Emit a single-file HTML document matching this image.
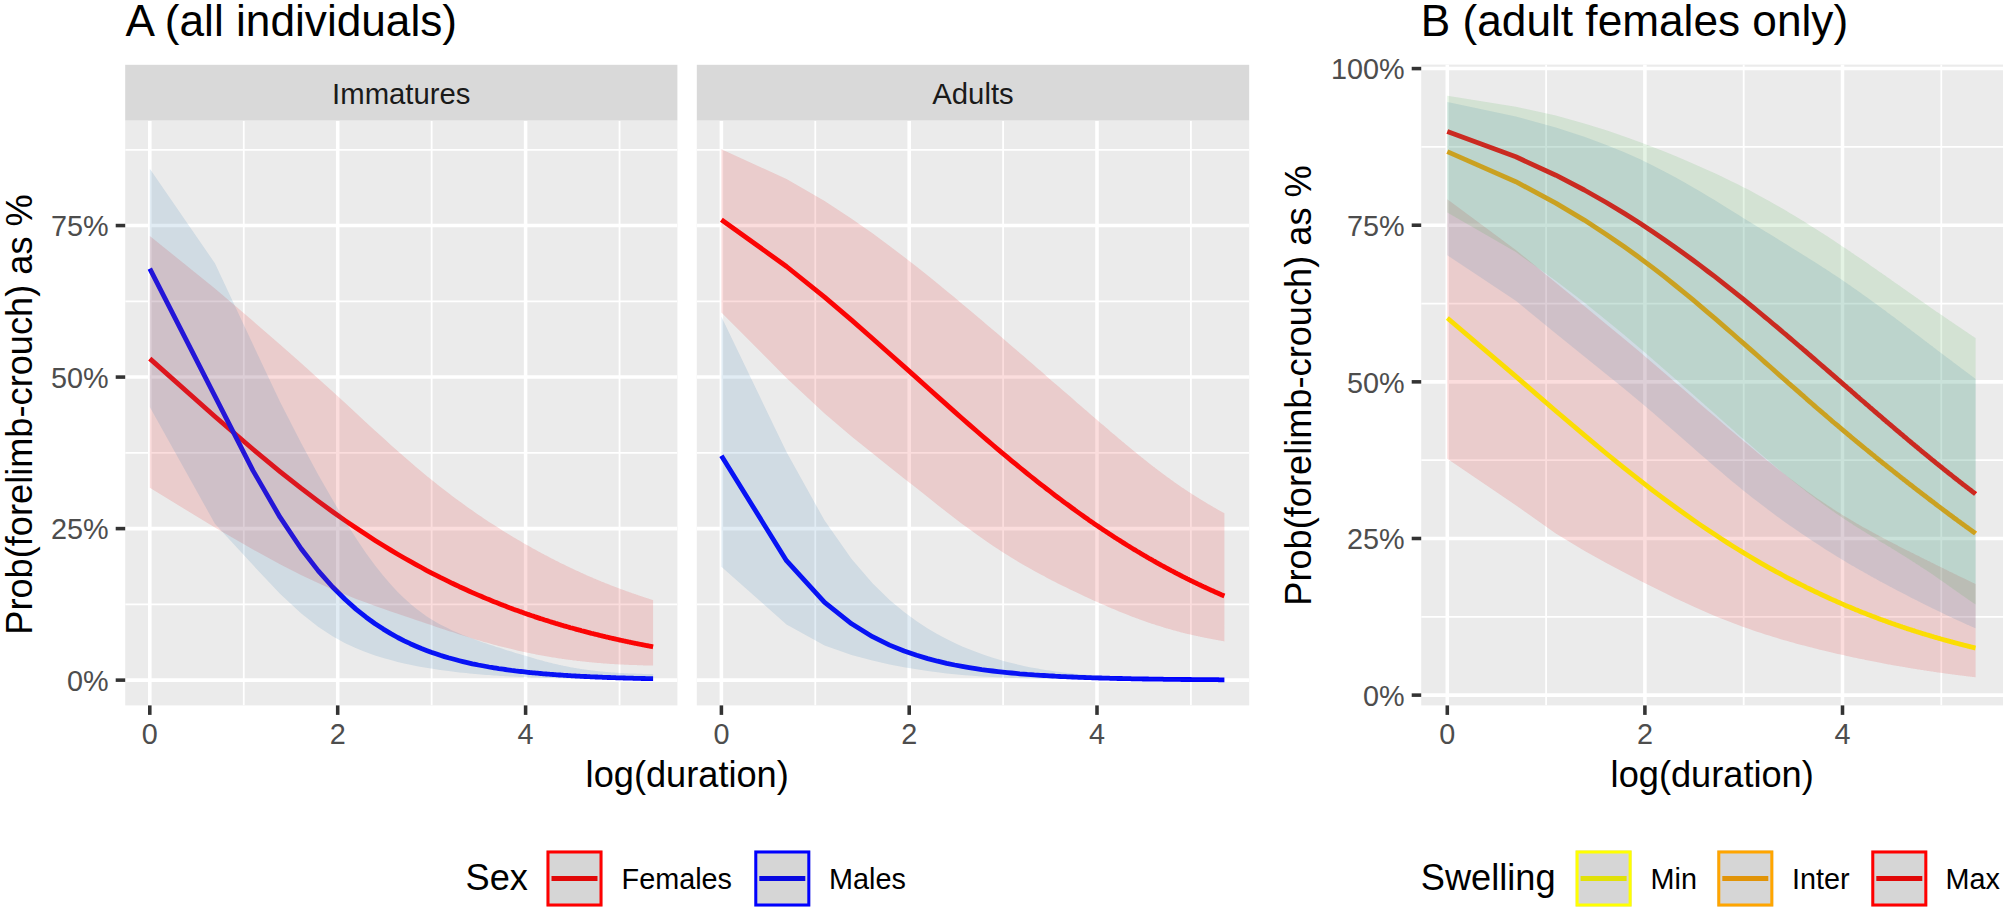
<!DOCTYPE html>
<html><head><meta charset="utf-8"><title>Figure</title><style>html,body{margin:0;padding:0;background:#fff}svg{display:block}</style></head><body>
<svg width="2007" height="913" viewBox="0 0 2007 913" font-family="'Liberation Sans', Arial, sans-serif">
<rect width="2007" height="913" fill="#fff"/>
<rect x="125.2" y="64.8" width="552.20" height="55.90" fill="#d9d9d9"/>
<text x="401.3" y="103.9" font-size="29.3" fill="#1a1a1a" text-anchor="middle">Immatures</text>
<rect x="696.8" y="64.8" width="552.40" height="55.90" fill="#d9d9d9"/>
<text x="973.0" y="103.9" font-size="29.3" fill="#1a1a1a" text-anchor="middle">Adults</text>
<clipPath id="cA1"><rect x="125.2" y="120.7" width="552.20" height="584.70"/></clipPath>
<rect x="125.2" y="120.7" width="552.20" height="584.70" fill="#ebebeb"/>
<g clip-path="url(#cA1)" stroke="#fff" fill="none">
<line x1="125.2" x2="677.4" y1="604.37" y2="604.37" stroke-width="1.78"/>
<line x1="125.2" x2="677.4" y1="452.84" y2="452.84" stroke-width="1.78"/>
<line x1="125.2" x2="677.4" y1="301.32" y2="301.32" stroke-width="1.78"/>
<line x1="125.2" x2="677.4" y1="149.79" y2="149.79" stroke-width="1.78"/>
<line x1="243.75" x2="243.75" y1="120.7" y2="705.4" stroke-width="1.78"/>
<line x1="431.65" x2="431.65" y1="120.7" y2="705.4" stroke-width="1.78"/>
<line x1="619.55" x2="619.55" y1="120.7" y2="705.4" stroke-width="1.78"/>
<line x1="125.2" x2="677.4" y1="680.13" y2="680.13" stroke-width="3.56"/>
<line x1="125.2" x2="677.4" y1="528.61" y2="528.61" stroke-width="3.56"/>
<line x1="125.2" x2="677.4" y1="377.08" y2="377.08" stroke-width="3.56"/>
<line x1="125.2" x2="677.4" y1="225.56" y2="225.56" stroke-width="3.56"/>
<line x1="149.80" x2="149.80" y1="120.7" y2="705.4" stroke-width="3.56"/>
<line x1="337.70" x2="337.70" y1="120.7" y2="705.4" stroke-width="3.56"/>
<line x1="525.60" x2="525.60" y1="120.7" y2="705.4" stroke-width="3.56"/>
</g>
<clipPath id="cA2"><rect x="696.8" y="120.7" width="552.40" height="584.70"/></clipPath>
<rect x="696.8" y="120.7" width="552.40" height="584.70" fill="#ebebeb"/>
<g clip-path="url(#cA2)" stroke="#fff" fill="none">
<line x1="696.8" x2="1249.2" y1="604.37" y2="604.37" stroke-width="1.78"/>
<line x1="696.8" x2="1249.2" y1="452.84" y2="452.84" stroke-width="1.78"/>
<line x1="696.8" x2="1249.2" y1="301.32" y2="301.32" stroke-width="1.78"/>
<line x1="696.8" x2="1249.2" y1="149.79" y2="149.79" stroke-width="1.78"/>
<line x1="815.30" x2="815.30" y1="120.7" y2="705.4" stroke-width="1.78"/>
<line x1="1003.10" x2="1003.10" y1="120.7" y2="705.4" stroke-width="1.78"/>
<line x1="1190.90" x2="1190.90" y1="120.7" y2="705.4" stroke-width="1.78"/>
<line x1="696.8" x2="1249.2" y1="680.13" y2="680.13" stroke-width="3.56"/>
<line x1="696.8" x2="1249.2" y1="528.61" y2="528.61" stroke-width="3.56"/>
<line x1="696.8" x2="1249.2" y1="377.08" y2="377.08" stroke-width="3.56"/>
<line x1="696.8" x2="1249.2" y1="225.56" y2="225.56" stroke-width="3.56"/>
<line x1="721.40" x2="721.40" y1="120.7" y2="705.4" stroke-width="3.56"/>
<line x1="909.20" x2="909.20" y1="120.7" y2="705.4" stroke-width="3.56"/>
<line x1="1097.00" x2="1097.00" y1="120.7" y2="705.4" stroke-width="3.56"/>
</g>
<clipPath id="cB"><rect x="1421.2" y="64.6" width="581.80" height="640.80"/></clipPath>
<rect x="1421.2" y="64.6" width="581.80" height="640.80" fill="#ebebeb"/>
<g clip-path="url(#cB)" stroke="#fff" fill="none">
<line x1="1421.2" x2="2003.0" y1="616.81" y2="616.81" stroke-width="1.78"/>
<line x1="1421.2" x2="2003.0" y1="460.17" y2="460.17" stroke-width="1.78"/>
<line x1="1421.2" x2="2003.0" y1="303.54" y2="303.54" stroke-width="1.78"/>
<line x1="1421.2" x2="2003.0" y1="146.90" y2="146.90" stroke-width="1.78"/>
<line x1="1546.10" x2="1546.10" y1="64.6" y2="705.4" stroke-width="1.78"/>
<line x1="1743.70" x2="1743.70" y1="64.6" y2="705.4" stroke-width="1.78"/>
<line x1="1941.30" x2="1941.30" y1="64.6" y2="705.4" stroke-width="1.78"/>
<line x1="1421.2" x2="2003.0" y1="695.13" y2="695.13" stroke-width="3.56"/>
<line x1="1421.2" x2="2003.0" y1="538.49" y2="538.49" stroke-width="3.56"/>
<line x1="1421.2" x2="2003.0" y1="381.85" y2="381.85" stroke-width="3.56"/>
<line x1="1421.2" x2="2003.0" y1="225.22" y2="225.22" stroke-width="3.56"/>
<line x1="1421.2" x2="2003.0" y1="68.58" y2="68.58" stroke-width="3.56"/>
<line x1="1447.30" x2="1447.30" y1="64.6" y2="705.4" stroke-width="3.56"/>
<line x1="1644.90" x2="1644.90" y1="64.6" y2="705.4" stroke-width="3.56"/>
<line x1="1842.50" x2="1842.50" y1="64.6" y2="705.4" stroke-width="3.56"/>
</g>
<polyline clip-path="url(#cA1)" points="149.8,358.6 214.9,416.5 253.0,449.3 280.0,471.6 301.0,488.2 318.1,501.1 332.6,511.7 345.2,520.6 356.2,528.1 366.1,534.6 375.1,540.4 383.3,545.5 390.8,550.1 397.7,554.2 404.2,558.0 410.3,561.4 416.0,564.6 421.4,567.5 426.4,570.3 431.2,572.8 435.8,575.1 440.2,577.4 444.4,579.4 448.4,581.4 452.2,583.3 455.9,585.0 459.4,586.7 462.9,588.3 466.2,589.8 469.3,591.2 472.4,592.6 475.4,593.9 478.3,595.1 481.1,596.3 483.8,597.5 486.5,598.6 489.0,599.6 491.6,600.7 494.0,601.7 496.4,602.6 498.7,603.5 501.0,604.4 503.2,605.3 505.3,606.1 507.4,606.9 509.5,607.7 511.5,608.4 513.5,609.2 515.4,609.9 517.3,610.6 519.2,611.3 521.0,611.9 522.8,612.5 524.6,613.2 526.3,613.8 528.0,614.4 529.6,614.9 531.3,615.5 532.9,616.0 534.5,616.6 536.0,617.1 537.5,617.6 539.0,618.1 540.5,618.6 542.0,619.0 543.4,619.5 544.8,620.0 546.2,620.4 547.6,620.8 548.9,621.3 550.3,621.7 551.6,622.1 552.9,622.5 554.2,622.9 555.4,623.3 556.7,623.6 557.9,624.0 559.1,624.4 560.3,624.7 561.5,625.1 562.7,625.4 563.8,625.8 565.0,626.1 566.1,626.4 567.2,626.7 568.3,627.0 569.4,627.4 570.4,627.7 571.5,628.0 572.6,628.2 573.6,628.5 574.6,628.8 575.6,629.1 576.6,629.4 577.6,629.7 578.6,629.9 579.6,630.2 580.6,630.4 581.5,630.7 582.5,631.0 583.4,631.2 584.3,631.4 585.2,631.7 586.1,631.9 587.0,632.2 587.9,632.4 588.8,632.6 589.7,632.8 590.6,633.1 591.4,633.3 592.3,633.5 593.1,633.7 593.9,633.9 594.8,634.1 595.6,634.3 596.4,634.5 597.2,634.7 598.0,634.9 598.8,635.1 599.6,635.3 600.4,635.5 601.1,635.7 601.9,635.9 602.7,636.1 603.4,636.3 604.2,636.4 604.9,636.6 605.6,636.8 606.4,637.0 607.1,637.1 607.8,637.3 608.5,637.5 609.2,637.6 610.0,637.8 610.7,638.0 611.3,638.1 612.0,638.3 612.7,638.4 613.4,638.6 614.1,638.7 614.7,638.9 615.4,639.0 616.1,639.2 616.7,639.3 617.4,639.5 618.0,639.6 618.7,639.8 619.3,639.9 619.9,640.1 620.5,640.2 621.2,640.3 621.8,640.5 622.4,640.6 623.0,640.7 623.6,640.9 624.2,641.0 624.8,641.1 625.4,641.3 626.0,641.4 626.6,641.5 627.2,641.6 627.8,641.8 628.4,641.9 628.9,642.0 629.5,642.1 630.1,642.2 630.6,642.4 631.2,642.5 631.8,642.6 632.3,642.7 632.9,642.8 633.4,642.9 634.0,643.0 634.5,643.2 635.0,643.3 635.6,643.4 636.1,643.5 636.6,643.6 637.2,643.7 637.7,643.8 638.2,643.9 638.7,644.0 639.2,644.1 639.7,644.2 640.3,644.3 640.8,644.4 641.3,644.5 641.8,644.6 642.3,644.7 642.8,644.8 643.3,644.9 643.7,645.0 644.2,645.1 644.7,645.2 645.2,645.3 645.7,645.4 646.2,645.5 646.6,645.6 647.1,645.7 647.6,645.7 648.0,645.8 648.5,645.9 649.0,646.0 649.4,646.1 649.9,646.2 650.4,646.3 650.8,646.4 651.3,646.4 651.7,646.5 652.2,646.6 652.6,646.7 653.1,646.8" fill="none" stroke="#ff0000" stroke-width="4.8" stroke-linejoin="round"/>
<polyline clip-path="url(#cA1)" points="149.8,268.7 214.9,396.2 253.0,470.6 280.0,517.2 301.0,548.5 318.1,570.6 332.6,587.0 345.2,599.5 356.2,609.4 366.1,617.2 375.1,623.7 383.3,629.1 390.8,633.6 397.7,637.5 404.2,640.8 410.3,643.7 416.0,646.2 421.4,648.5 426.4,650.4 431.2,652.2 435.8,653.8 440.2,655.3 444.4,656.6 448.4,657.8 452.2,658.8 455.9,659.8 459.4,660.7 462.9,661.6 466.2,662.4 469.3,663.1 472.4,663.8 475.4,664.4 478.3,665.0 481.1,665.5 483.8,666.0 486.5,666.5 489.0,667.0 491.6,667.4 494.0,667.8 496.4,668.2 498.7,668.6 501.0,668.9 503.2,669.2 505.3,669.5 507.4,669.8 509.5,670.1 511.5,670.4 513.5,670.6 515.4,670.9 517.3,671.1 519.2,671.3 521.0,671.5 522.8,671.7 524.6,671.9 526.3,672.1 528.0,672.3 529.6,672.5 531.3,672.6 532.9,672.8 534.5,672.9 536.0,673.1 537.5,673.2 539.0,673.4 540.5,673.5 542.0,673.6 543.4,673.8 544.8,673.9 546.2,674.0 547.6,674.1 548.9,674.2 550.3,674.3 551.6,674.4 552.9,674.5 554.2,674.6 555.4,674.7 556.7,674.8 557.9,674.9 559.1,675.0 560.3,675.0 561.5,675.1 562.7,675.2 563.8,675.3 565.0,675.4 566.1,675.4 567.2,675.5 568.3,675.6 569.4,675.6 570.4,675.7 571.5,675.8 572.6,675.8 573.6,675.9 574.6,675.9 575.6,676.0 576.6,676.1 577.6,676.1 578.6,676.2 579.6,676.2 580.6,676.3 581.5,676.3 582.5,676.4 583.4,676.4 584.3,676.5 585.2,676.5 586.1,676.5 587.0,676.6 587.9,676.6 588.8,676.7 589.7,676.7 590.6,676.8 591.4,676.8 592.3,676.8 593.1,676.9 593.9,676.9 594.8,676.9 595.6,677.0 596.4,677.0 597.2,677.0 598.0,677.1 598.8,677.1 599.6,677.1 600.4,677.2 601.1,677.2 601.9,677.2 602.7,677.3 603.4,677.3 604.2,677.3 604.9,677.4 605.6,677.4 606.4,677.4 607.1,677.4 607.8,677.5 608.5,677.5 609.2,677.5 610.0,677.5 610.7,677.6 611.3,677.6 612.0,677.6 612.7,677.6 613.4,677.7 614.1,677.7 614.7,677.7 615.4,677.7 616.1,677.8 616.7,677.8 617.4,677.8 618.0,677.8 618.7,677.8 619.3,677.9 619.9,677.9 620.5,677.9 621.2,677.9 621.8,677.9 622.4,677.9 623.0,678.0 623.6,678.0 624.2,678.0 624.8,678.0 625.4,678.0 626.0,678.1 626.6,678.1 627.2,678.1 627.8,678.1 628.4,678.1 628.9,678.1 629.5,678.2 630.1,678.2 630.6,678.2 631.2,678.2 631.8,678.2 632.3,678.2 632.9,678.2 633.4,678.3 634.0,678.3 634.5,678.3 635.0,678.3 635.6,678.3 636.1,678.3 636.6,678.3 637.2,678.4 637.7,678.4 638.2,678.4 638.7,678.4 639.2,678.4 639.7,678.4 640.3,678.4 640.8,678.4 641.3,678.5 641.8,678.5 642.3,678.5 642.8,678.5 643.3,678.5 643.7,678.5 644.2,678.5 644.7,678.5 645.2,678.5 645.7,678.6 646.2,678.6 646.6,678.6 647.1,678.6 647.6,678.6 648.0,678.6 648.5,678.6 649.0,678.6 649.4,678.6 649.9,678.6 650.4,678.7 650.8,678.7 651.3,678.7 651.7,678.7 652.2,678.7 652.6,678.7 653.1,678.7" fill="none" stroke="#0000ff" stroke-width="4.8" stroke-linejoin="round"/>
<polygon clip-path="url(#cA1)" points="149.8,236.0 214.9,288.4 253.0,321.1 280.0,344.6 301.0,363.1 318.1,378.4 332.6,391.6 345.2,403.1 356.2,413.3 366.1,422.4 375.1,430.7 383.3,438.1 390.8,444.9 397.7,451.1 404.2,456.8 410.3,462.1 416.0,467.0 421.4,471.5 426.4,475.7 431.2,479.6 435.8,483.3 440.2,486.8 444.4,490.0 448.4,493.1 452.2,496.0 455.9,498.7 459.4,501.3 462.9,503.8 466.2,506.2 469.3,508.5 472.4,510.6 475.4,512.7 478.3,514.7 481.1,516.6 483.8,518.4 486.5,520.2 489.0,521.9 491.6,523.5 494.0,525.1 496.4,526.6 498.7,528.1 501.0,529.5 503.2,530.9 505.3,532.2 507.4,533.5 509.5,534.8 511.5,536.0 513.5,537.2 515.4,538.3 517.3,539.5 519.2,540.6 521.0,541.6 522.8,542.7 524.6,543.7 526.3,544.7 528.0,545.6 529.6,546.6 531.3,547.5 532.9,548.4 534.5,549.3 536.0,550.1 537.5,551.0 539.0,551.8 540.5,552.6 542.0,553.4 543.4,554.1 544.8,554.9 546.2,555.6 547.6,556.3 548.9,557.1 550.3,557.8 551.6,558.4 552.9,559.1 554.2,559.8 555.4,560.4 556.7,561.0 557.9,561.6 559.1,562.3 560.3,562.9 561.5,563.4 562.7,564.0 563.8,564.6 565.0,565.1 566.1,565.7 567.2,566.2 568.3,566.7 569.4,567.3 570.4,567.8 571.5,568.3 572.6,568.8 573.6,569.3 574.6,569.7 575.6,570.2 576.6,570.7 577.6,571.1 578.6,571.6 579.6,572.0 580.6,572.5 581.5,572.9 582.5,573.3 583.4,573.8 584.3,574.2 585.2,574.6 586.1,575.0 587.0,575.4 587.9,575.8 588.8,576.2 589.7,576.5 590.6,576.9 591.4,577.3 592.3,577.6 593.1,578.0 593.9,578.4 594.8,578.7 595.6,579.1 596.4,579.4 597.2,579.7 598.0,580.1 598.8,580.4 599.6,580.7 600.4,581.0 601.1,581.4 601.9,581.7 602.7,582.0 603.4,582.3 604.2,582.6 604.9,582.9 605.6,583.2 606.4,583.5 607.1,583.8 607.8,584.1 608.5,584.3 609.2,584.6 610.0,584.9 610.7,585.2 611.3,585.4 612.0,585.7 612.7,586.0 613.4,586.2 614.1,586.5 614.7,586.8 615.4,587.0 616.1,587.3 616.7,587.5 617.4,587.8 618.0,588.0 618.7,588.2 619.3,588.5 619.9,588.7 620.5,588.9 621.2,589.2 621.8,589.4 622.4,589.6 623.0,589.9 623.6,590.1 624.2,590.3 624.8,590.5 625.4,590.7 626.0,590.9 626.6,591.2 627.2,591.4 627.8,591.6 628.4,591.8 628.9,592.0 629.5,592.2 630.1,592.4 630.6,592.6 631.2,592.8 631.8,593.0 632.3,593.2 632.9,593.4 633.4,593.6 634.0,593.7 634.5,593.9 635.0,594.1 635.6,594.3 636.1,594.5 636.6,594.7 637.2,594.8 637.7,595.0 638.2,595.2 638.7,595.4 639.2,595.6 639.7,595.7 640.3,595.9 640.8,596.1 641.3,596.2 641.8,596.4 642.3,596.6 642.8,596.7 643.3,596.9 643.7,597.1 644.2,597.2 644.7,597.4 645.2,597.5 645.7,597.7 646.2,597.9 646.6,598.0 647.1,598.2 647.6,598.3 648.0,598.5 648.5,598.6 649.0,598.8 649.4,598.9 649.9,599.1 650.4,599.2 650.8,599.4 651.3,599.5 651.7,599.7 652.2,599.8 652.6,599.9 653.1,600.1 653.1,665.6 652.6,665.6 652.2,665.6 651.7,665.6 651.3,665.6 650.8,665.6 650.4,665.6 649.9,665.5 649.4,665.5 649.0,665.5 648.5,665.5 648.0,665.5 647.6,665.5 647.1,665.5 646.6,665.5 646.2,665.4 645.7,665.4 645.2,665.4 644.7,665.4 644.2,665.4 643.7,665.4 643.3,665.4 642.8,665.3 642.3,665.3 641.8,665.3 641.3,665.3 640.8,665.3 640.3,665.3 639.7,665.2 639.2,665.2 638.7,665.2 638.2,665.2 637.7,665.2 637.2,665.2 636.6,665.1 636.1,665.1 635.6,665.1 635.0,665.1 634.5,665.1 634.0,665.0 633.4,665.0 632.9,665.0 632.3,665.0 631.8,665.0 631.2,664.9 630.6,664.9 630.1,664.9 629.5,664.9 628.9,664.9 628.4,664.8 627.8,664.8 627.2,664.8 626.6,664.8 626.0,664.7 625.4,664.7 624.8,664.7 624.2,664.7 623.6,664.6 623.0,664.6 622.4,664.6 621.8,664.5 621.2,664.5 620.5,664.5 619.9,664.4 619.3,664.4 618.7,664.4 618.0,664.3 617.4,664.3 616.7,664.3 616.1,664.2 615.4,664.2 614.7,664.2 614.1,664.1 613.4,664.1 612.7,664.0 612.0,664.0 611.3,663.9 610.7,663.9 610.0,663.9 609.2,663.8 608.5,663.8 607.8,663.7 607.1,663.7 606.4,663.6 605.6,663.5 604.9,663.5 604.2,663.4 603.4,663.4 602.7,663.3 601.9,663.3 601.1,663.2 600.4,663.1 599.6,663.1 598.8,663.0 598.0,662.9 597.2,662.9 596.4,662.8 595.6,662.7 594.8,662.7 593.9,662.6 593.1,662.5 592.3,662.4 591.4,662.3 590.6,662.3 589.7,662.2 588.8,662.1 587.9,662.0 587.0,661.9 586.1,661.8 585.2,661.7 584.3,661.6 583.4,661.5 582.5,661.4 581.5,661.3 580.6,661.2 579.6,661.1 578.6,661.0 577.6,660.9 576.6,660.7 575.6,660.6 574.6,660.5 573.6,660.4 572.6,660.2 571.5,660.1 570.4,660.0 569.4,659.8 568.3,659.7 567.2,659.5 566.1,659.4 565.0,659.2 563.8,659.1 562.7,658.9 561.5,658.7 560.3,658.6 559.1,658.4 557.9,658.2 556.7,658.0 555.4,657.8 554.2,657.6 552.9,657.4 551.6,657.2 550.3,657.0 548.9,656.7 547.6,656.5 546.2,656.3 544.8,656.0 543.4,655.8 542.0,655.5 540.5,655.3 539.0,655.0 537.5,654.7 536.0,654.4 534.5,654.1 532.9,653.8 531.3,653.5 529.6,653.1 528.0,652.8 526.3,652.4 524.6,652.1 522.8,651.7 521.0,651.3 519.2,650.9 517.3,650.5 515.4,650.0 513.5,649.6 511.5,649.1 509.5,648.6 507.4,648.1 505.3,647.6 503.2,647.1 501.0,646.5 498.7,645.9 496.4,645.3 494.0,644.7 491.6,644.0 489.0,643.3 486.5,642.6 483.8,641.9 481.1,641.1 478.3,640.3 475.4,639.4 472.4,638.5 469.3,637.6 466.2,636.6 462.9,635.6 459.4,634.5 455.9,633.3 452.2,632.1 448.4,630.9 444.4,629.6 440.2,628.2 435.8,626.7 431.2,625.1 426.4,623.5 421.4,621.8 416.0,620.0 410.3,618.1 404.2,616.0 397.7,613.8 390.8,611.4 383.3,608.8 375.1,605.9 366.1,602.6 356.2,598.9 345.2,594.6 332.6,589.5 318.1,583.1 301.0,575.0 280.0,564.3 253.0,549.5 214.9,527.6 149.8,487.8" fill="#e41a1c" fill-opacity="0.15"/>
<polygon clip-path="url(#cA1)" points="149.8,168.7 214.9,263.3 253.0,344.6 280.0,401.7 301.0,442.8 318.1,474.4 332.6,499.8 345.2,520.9 356.2,538.5 366.1,553.2 375.1,565.5 383.3,575.8 390.8,584.6 397.7,592.0 404.2,598.3 410.3,603.8 416.0,608.5 421.4,612.6 426.4,616.2 431.2,619.3 435.8,622.0 440.2,624.5 444.4,626.6 448.4,628.6 452.2,630.4 455.9,632.0 459.4,633.6 462.9,635.0 466.2,636.3 469.3,637.5 472.4,638.6 475.4,639.7 478.3,640.8 481.1,641.8 483.8,642.7 486.5,643.6 489.0,644.5 491.6,645.3 494.0,646.1 496.4,646.9 498.7,647.6 501.0,648.3 503.2,649.0 505.3,649.7 507.4,650.4 509.5,651.0 511.5,651.6 513.5,652.3 515.4,652.9 517.3,653.4 519.2,654.0 521.0,654.6 522.8,655.1 524.6,655.6 526.3,656.1 528.0,656.6 529.6,657.1 531.3,657.6 532.9,658.1 534.5,658.5 536.0,659.0 537.5,659.4 539.0,659.8 540.5,660.2 542.0,660.6 543.4,661.0 544.8,661.4 546.2,661.8 547.6,662.1 548.9,662.5 550.3,662.8 551.6,663.1 552.9,663.4 554.2,663.7 555.4,664.0 556.7,664.3 557.9,664.6 559.1,664.9 560.3,665.1 561.5,665.4 562.7,665.6 563.8,665.9 565.0,666.1 566.1,666.3 567.2,666.6 568.3,666.8 569.4,667.0 570.4,667.2 571.5,667.4 572.6,667.6 573.6,667.7 574.6,667.9 575.6,668.1 576.6,668.3 577.6,668.4 578.6,668.6 579.6,668.7 580.6,668.9 581.5,669.0 582.5,669.2 583.4,669.3 584.3,669.5 585.2,669.6 586.1,669.7 587.0,669.8 587.9,670.0 588.8,670.1 589.7,670.2 590.6,670.3 591.4,670.4 592.3,670.5 593.1,670.6 593.9,670.7 594.8,670.8 595.6,670.9 596.4,671.0 597.2,671.1 598.0,671.2 598.8,671.2 599.6,671.3 600.4,671.4 601.1,671.5 601.9,671.6 602.7,671.6 603.4,671.7 604.2,671.8 604.9,671.8 605.6,671.9 606.4,672.0 607.1,672.0 607.8,672.1 608.5,672.2 609.2,672.2 610.0,672.3 610.7,672.3 611.3,672.4 612.0,672.4 612.7,672.5 613.4,672.5 614.1,672.6 614.7,672.6 615.4,672.7 616.1,672.7 616.7,672.7 617.4,672.8 618.0,672.8 618.7,672.9 619.3,672.9 619.9,672.9 620.5,673.0 621.2,673.0 621.8,673.0 622.4,673.1 623.0,673.1 623.6,673.1 624.2,673.2 624.8,673.2 625.4,673.2 626.0,673.3 626.6,673.3 627.2,673.3 627.8,673.3 628.4,673.4 628.9,673.4 629.5,673.4 630.1,673.4 630.6,673.5 631.2,673.5 631.8,673.5 632.3,673.5 632.9,673.5 633.4,673.6 634.0,673.6 634.5,673.6 635.0,673.6 635.6,673.6 636.1,673.7 636.6,673.7 637.2,673.7 637.7,673.7 638.2,673.7 638.7,673.7 639.2,673.8 639.7,673.8 640.3,673.8 640.8,673.8 641.3,673.8 641.8,673.8 642.3,673.8 642.8,673.9 643.3,673.9 643.7,673.9 644.2,673.9 644.7,673.9 645.2,673.9 645.7,673.9 646.2,674.0 646.6,674.0 647.1,674.0 647.6,674.0 648.0,674.0 648.5,674.0 649.0,674.0 649.4,674.0 649.9,674.1 650.4,674.1 650.8,674.1 651.3,674.1 651.7,674.1 652.2,674.1 652.6,674.1 653.1,674.1 653.1,679.6 652.6,679.6 652.2,679.6 651.7,679.6 651.3,679.6 650.8,679.6 650.4,679.6 649.9,679.6 649.4,679.6 649.0,679.6 648.5,679.6 648.0,679.6 647.6,679.6 647.1,679.5 646.6,679.5 646.2,679.5 645.7,679.5 645.2,679.5 644.7,679.5 644.2,679.5 643.7,679.5 643.3,679.5 642.8,679.5 642.3,679.5 641.8,679.5 641.3,679.5 640.8,679.5 640.3,679.5 639.7,679.5 639.2,679.5 638.7,679.5 638.2,679.5 637.7,679.5 637.2,679.5 636.6,679.5 636.1,679.5 635.6,679.4 635.0,679.4 634.5,679.4 634.0,679.4 633.4,679.4 632.9,679.4 632.3,679.4 631.8,679.4 631.2,679.4 630.6,679.4 630.1,679.4 629.5,679.4 628.9,679.4 628.4,679.4 627.8,679.4 627.2,679.4 626.6,679.4 626.0,679.4 625.4,679.4 624.8,679.3 624.2,679.3 623.6,679.3 623.0,679.3 622.4,679.3 621.8,679.3 621.2,679.3 620.5,679.3 619.9,679.3 619.3,679.3 618.7,679.3 618.0,679.3 617.4,679.3 616.7,679.3 616.1,679.2 615.4,679.2 614.7,679.2 614.1,679.2 613.4,679.2 612.7,679.2 612.0,679.2 611.3,679.2 610.7,679.2 610.0,679.2 609.2,679.2 608.5,679.2 607.8,679.1 607.1,679.1 606.4,679.1 605.6,679.1 604.9,679.1 604.2,679.1 603.4,679.1 602.7,679.1 601.9,679.1 601.1,679.1 600.4,679.0 599.6,679.0 598.8,679.0 598.0,679.0 597.2,679.0 596.4,679.0 595.6,679.0 594.8,679.0 593.9,679.0 593.1,678.9 592.3,678.9 591.4,678.9 590.6,678.9 589.7,678.9 588.8,678.9 587.9,678.9 587.0,678.8 586.1,678.8 585.2,678.8 584.3,678.8 583.4,678.8 582.5,678.8 581.5,678.7 580.6,678.7 579.6,678.7 578.6,678.7 577.6,678.7 576.6,678.6 575.6,678.6 574.6,678.6 573.6,678.6 572.6,678.6 571.5,678.5 570.4,678.5 569.4,678.5 568.3,678.5 567.2,678.5 566.1,678.4 565.0,678.4 563.8,678.4 562.7,678.3 561.5,678.3 560.3,678.3 559.1,678.3 557.9,678.2 556.7,678.2 555.4,678.2 554.2,678.1 552.9,678.1 551.6,678.1 550.3,678.0 548.9,678.0 547.6,677.9 546.2,677.9 544.8,677.9 543.4,677.8 542.0,677.8 540.5,677.7 539.0,677.7 537.5,677.6 536.0,677.6 534.5,677.5 532.9,677.5 531.3,677.4 529.6,677.3 528.0,677.3 526.3,677.2 524.6,677.1 522.8,677.0 521.0,677.0 519.2,676.9 517.3,676.8 515.4,676.7 513.5,676.6 511.5,676.5 509.5,676.4 507.4,676.3 505.3,676.2 503.2,676.0 501.0,675.9 498.7,675.8 496.4,675.6 494.0,675.5 491.6,675.3 489.0,675.1 486.5,674.9 483.8,674.7 481.1,674.5 478.3,674.3 475.4,674.0 472.4,673.8 469.3,673.5 466.2,673.1 462.9,672.8 459.4,672.4 455.9,672.0 452.2,671.6 448.4,671.1 444.4,670.6 440.2,670.0 435.8,669.3 431.2,668.6 426.4,667.8 421.4,666.9 416.0,665.9 410.3,664.7 404.2,663.4 397.7,661.9 390.8,660.1 383.3,658.0 375.1,655.4 366.1,652.2 356.2,648.3 345.2,643.2 332.6,636.3 318.1,626.8 301.0,613.3 280.0,593.7 253.0,565.1 214.9,523.7 149.8,407.1" fill="#377eb8" fill-opacity="0.15"/>
<polyline clip-path="url(#cA2)" points="721.4,219.7 786.5,266.5 824.6,297.2 851.6,320.2 872.5,338.5 889.6,353.7 904.1,366.6 916.7,377.9 927.7,387.8 937.6,396.6 946.6,404.6 954.7,411.9 962.2,418.5 969.2,424.6 975.7,430.2 981.7,435.5 987.4,440.4 992.8,445.0 997.9,449.3 1002.7,453.3 1007.3,457.2 1011.6,460.8 1015.8,464.2 1019.8,467.5 1023.7,470.6 1027.3,473.6 1030.9,476.5 1034.3,479.2 1037.6,481.8 1040.8,484.3 1043.9,486.7 1046.8,489.0 1049.7,491.2 1052.5,493.4 1055.2,495.5 1057.9,497.5 1060.5,499.4 1063.0,501.3 1065.4,503.1 1067.8,504.8 1070.1,506.5 1072.4,508.2 1074.6,509.8 1076.7,511.4 1078.8,512.9 1080.9,514.4 1082.9,515.8 1084.9,517.2 1086.8,518.5 1088.7,519.9 1090.6,521.2 1092.4,522.4 1094.2,523.7 1096.0,524.9 1097.7,526.0 1099.4,527.2 1101.0,528.3 1102.7,529.4 1104.3,530.5 1105.9,531.5 1107.4,532.6 1108.9,533.6 1110.4,534.5 1111.9,535.5 1113.4,536.5 1114.8,537.4 1116.2,538.3 1117.6,539.2 1119.0,540.1 1120.3,540.9 1121.7,541.8 1123.0,542.6 1124.3,543.4 1125.6,544.2 1126.8,545.0 1128.1,545.8 1129.3,546.5 1130.5,547.3 1131.7,548.0 1132.9,548.7 1134.0,549.4 1135.2,550.1 1136.3,550.8 1137.5,551.5 1138.6,552.1 1139.7,552.8 1140.7,553.4 1141.8,554.1 1142.9,554.7 1143.9,555.3 1145.0,555.9 1146.0,556.5 1147.0,557.1 1148.0,557.7 1149.0,558.3 1150.0,558.8 1151.0,559.4 1151.9,559.9 1152.9,560.5 1153.8,561.0 1154.8,561.5 1155.7,562.1 1156.6,562.6 1157.5,563.1 1158.4,563.6 1159.3,564.1 1160.2,564.6 1161.1,565.1 1161.9,565.5 1162.8,566.0 1163.6,566.5 1164.5,566.9 1165.3,567.4 1166.1,567.8 1166.9,568.3 1167.8,568.7 1168.6,569.1 1169.4,569.6 1170.2,570.0 1170.9,570.4 1171.7,570.8 1172.5,571.2 1173.3,571.6 1174.0,572.0 1174.8,572.4 1175.5,572.8 1176.3,573.2 1177.0,573.6 1177.7,574.0 1178.5,574.3 1179.2,574.7 1179.9,575.1 1180.6,575.5 1181.3,575.8 1182.0,576.2 1182.7,576.5 1183.4,576.9 1184.1,577.2 1184.7,577.6 1185.4,577.9 1186.1,578.2 1186.8,578.6 1187.4,578.9 1188.1,579.2 1188.7,579.5 1189.4,579.9 1190.0,580.2 1190.6,580.5 1191.3,580.8 1191.9,581.1 1192.5,581.4 1193.1,581.7 1193.8,582.0 1194.4,582.3 1195.0,582.6 1195.6,582.9 1196.2,583.2 1196.8,583.5 1197.4,583.8 1198.0,584.0 1198.5,584.3 1199.1,584.6 1199.7,584.9 1200.3,585.1 1200.8,585.4 1201.4,585.7 1202.0,586.0 1202.5,586.2 1203.1,586.5 1203.7,586.7 1204.2,587.0 1204.7,587.2 1205.3,587.5 1205.8,587.8 1206.4,588.0 1206.9,588.2 1207.4,588.5 1208.0,588.7 1208.5,589.0 1209.0,589.2 1209.5,589.5 1210.1,589.7 1210.6,589.9 1211.1,590.2 1211.6,590.4 1212.1,590.6 1212.6,590.8 1213.1,591.1 1213.6,591.3 1214.1,591.5 1214.6,591.7 1215.1,592.0 1215.6,592.2 1216.1,592.4 1216.5,592.6 1217.0,592.8 1217.5,593.0 1218.0,593.2 1218.4,593.4 1218.9,593.6 1219.4,593.9 1219.8,594.1 1220.3,594.3 1220.8,594.5 1221.2,594.7 1221.7,594.9 1222.1,595.1 1222.6,595.3 1223.0,595.4 1223.5,595.6 1223.9,595.8 1224.4,596.0" fill="none" stroke="#ff0000" stroke-width="4.8" stroke-linejoin="round"/>
<polyline clip-path="url(#cA2)" points="721.4,455.7 786.5,560.7 824.6,602.4 851.6,623.8 872.5,636.7 889.6,645.1 904.1,651.0 916.7,655.3 927.7,658.6 937.6,661.2 946.6,663.3 954.7,665.0 962.2,666.4 969.2,667.6 975.7,668.7 981.7,669.6 987.4,670.3 992.8,671.0 997.9,671.6 1002.7,672.1 1007.3,672.6 1011.6,673.0 1015.8,673.4 1019.8,673.8 1023.7,674.1 1027.3,674.4 1030.9,674.6 1034.3,674.9 1037.6,675.1 1040.8,675.3 1043.9,675.5 1046.8,675.7 1049.7,675.9 1052.5,676.0 1055.2,676.2 1057.9,676.3 1060.5,676.5 1063.0,676.6 1065.4,676.7 1067.8,676.8 1070.1,676.9 1072.4,677.0 1074.6,677.1 1076.7,677.2 1078.8,677.3 1080.9,677.3 1082.9,677.4 1084.9,677.5 1086.8,677.6 1088.7,677.6 1090.6,677.7 1092.4,677.8 1094.2,677.8 1096.0,677.9 1097.7,677.9 1099.4,678.0 1101.0,678.0 1102.7,678.1 1104.3,678.1 1105.9,678.2 1107.4,678.2 1108.9,678.2 1110.4,678.3 1111.9,678.3 1113.4,678.4 1114.8,678.4 1116.2,678.4 1117.6,678.5 1119.0,678.5 1120.3,678.5 1121.7,678.5 1123.0,678.6 1124.3,678.6 1125.6,678.6 1126.8,678.7 1128.1,678.7 1129.3,678.7 1130.5,678.7 1131.7,678.8 1132.9,678.8 1134.0,678.8 1135.2,678.8 1136.3,678.8 1137.5,678.9 1138.6,678.9 1139.7,678.9 1140.7,678.9 1141.8,678.9 1142.9,679.0 1143.9,679.0 1145.0,679.0 1146.0,679.0 1147.0,679.0 1148.0,679.0 1149.0,679.1 1150.0,679.1 1151.0,679.1 1151.9,679.1 1152.9,679.1 1153.8,679.1 1154.8,679.1 1155.7,679.2 1156.6,679.2 1157.5,679.2 1158.4,679.2 1159.3,679.2 1160.2,679.2 1161.1,679.2 1161.9,679.2 1162.8,679.2 1163.6,679.3 1164.5,679.3 1165.3,679.3 1166.1,679.3 1166.9,679.3 1167.8,679.3 1168.6,679.3 1169.4,679.3 1170.2,679.3 1170.9,679.3 1171.7,679.4 1172.5,679.4 1173.3,679.4 1174.0,679.4 1174.8,679.4 1175.5,679.4 1176.3,679.4 1177.0,679.4 1177.7,679.4 1178.5,679.4 1179.2,679.4 1179.9,679.4 1180.6,679.4 1181.3,679.5 1182.0,679.5 1182.7,679.5 1183.4,679.5 1184.1,679.5 1184.7,679.5 1185.4,679.5 1186.1,679.5 1186.8,679.5 1187.4,679.5 1188.1,679.5 1188.7,679.5 1189.4,679.5 1190.0,679.5 1190.6,679.5 1191.3,679.5 1191.9,679.6 1192.5,679.6 1193.1,679.6 1193.8,679.6 1194.4,679.6 1195.0,679.6 1195.6,679.6 1196.2,679.6 1196.8,679.6 1197.4,679.6 1198.0,679.6 1198.5,679.6 1199.1,679.6 1199.7,679.6 1200.3,679.6 1200.8,679.6 1201.4,679.6 1202.0,679.6 1202.5,679.6 1203.1,679.6 1203.7,679.6 1204.2,679.7 1204.7,679.7 1205.3,679.7 1205.8,679.7 1206.4,679.7 1206.9,679.7 1207.4,679.7 1208.0,679.7 1208.5,679.7 1209.0,679.7 1209.5,679.7 1210.1,679.7 1210.6,679.7 1211.1,679.7 1211.6,679.7 1212.1,679.7 1212.6,679.7 1213.1,679.7 1213.6,679.7 1214.1,679.7 1214.6,679.7 1215.1,679.7 1215.6,679.7 1216.1,679.7 1216.5,679.7 1217.0,679.7 1217.5,679.7 1218.0,679.7 1218.4,679.7 1218.9,679.8 1219.4,679.8 1219.8,679.8 1220.3,679.8 1220.8,679.8 1221.2,679.8 1221.7,679.8 1222.1,679.8 1222.6,679.8 1223.0,679.8 1223.5,679.8 1223.9,679.8 1224.4,679.8" fill="none" stroke="#0000ff" stroke-width="4.8" stroke-linejoin="round"/>
<polygon clip-path="url(#cA2)" points="721.4,149.3 786.5,179.0 824.6,201.0 851.6,218.7 872.5,233.3 889.6,245.9 904.1,257.0 916.7,266.7 927.7,275.5 937.6,283.5 946.6,290.9 954.7,297.6 962.2,303.9 969.2,309.7 975.7,315.2 981.7,320.3 987.4,325.2 992.8,329.7 997.9,334.1 1002.7,338.2 1007.3,342.2 1011.6,345.9 1015.8,349.5 1019.8,353.0 1023.7,356.3 1027.3,359.5 1030.9,362.6 1034.3,365.5 1037.6,368.4 1040.8,371.1 1043.9,373.8 1046.8,376.4 1049.7,378.9 1052.5,381.4 1055.2,383.7 1057.9,386.0 1060.5,388.2 1063.0,390.4 1065.4,392.5 1067.8,394.6 1070.1,396.6 1072.4,398.6 1074.6,400.5 1076.7,402.4 1078.8,404.2 1080.9,406.0 1082.9,407.7 1084.9,409.4 1086.8,411.1 1088.7,412.8 1090.6,414.4 1092.4,415.9 1094.2,417.5 1096.0,419.0 1097.7,420.5 1099.4,421.9 1101.0,423.4 1102.7,424.8 1104.3,426.1 1105.9,427.5 1107.4,428.8 1108.9,430.1 1110.4,431.4 1111.9,432.7 1113.4,433.9 1114.8,435.1 1116.2,436.3 1117.6,437.5 1119.0,438.7 1120.3,439.8 1121.7,440.9 1123.0,442.0 1124.3,443.1 1125.6,444.2 1126.8,445.2 1128.1,446.3 1129.3,447.3 1130.5,448.3 1131.7,449.3 1132.9,450.2 1134.0,451.2 1135.2,452.1 1136.3,453.1 1137.5,454.0 1138.6,454.9 1139.7,455.8 1140.7,456.6 1141.8,457.5 1142.9,458.3 1143.9,459.2 1145.0,460.0 1146.0,460.8 1147.0,461.6 1148.0,462.4 1149.0,463.2 1150.0,464.0 1151.0,464.7 1151.9,465.5 1152.9,466.2 1153.8,466.9 1154.8,467.6 1155.7,468.4 1156.6,469.1 1157.5,469.7 1158.4,470.4 1159.3,471.1 1160.2,471.8 1161.1,472.4 1161.9,473.1 1162.8,473.7 1163.6,474.3 1164.5,475.0 1165.3,475.6 1166.1,476.2 1166.9,476.8 1167.8,477.4 1168.6,478.0 1169.4,478.5 1170.2,479.1 1170.9,479.7 1171.7,480.2 1172.5,480.8 1173.3,481.3 1174.0,481.9 1174.8,482.4 1175.5,482.9 1176.3,483.4 1177.0,484.0 1177.7,484.5 1178.5,485.0 1179.2,485.5 1179.9,486.0 1180.6,486.4 1181.3,486.9 1182.0,487.4 1182.7,487.9 1183.4,488.3 1184.1,488.8 1184.7,489.3 1185.4,489.7 1186.1,490.2 1186.8,490.6 1187.4,491.0 1188.1,491.5 1188.7,491.9 1189.4,492.3 1190.0,492.7 1190.6,493.1 1191.3,493.5 1191.9,493.9 1192.5,494.4 1193.1,494.7 1193.8,495.1 1194.4,495.5 1195.0,495.9 1195.6,496.3 1196.2,496.7 1196.8,497.0 1197.4,497.4 1198.0,497.8 1198.5,498.1 1199.1,498.5 1199.7,498.9 1200.3,499.2 1200.8,499.6 1201.4,499.9 1202.0,500.3 1202.5,500.6 1203.1,500.9 1203.7,501.3 1204.2,501.6 1204.7,501.9 1205.3,502.3 1205.8,502.6 1206.4,502.9 1206.9,503.2 1207.4,503.5 1208.0,503.9 1208.5,504.2 1209.0,504.5 1209.5,504.8 1210.1,505.1 1210.6,505.4 1211.1,505.7 1211.6,506.0 1212.1,506.3 1212.6,506.6 1213.1,506.9 1213.6,507.2 1214.1,507.4 1214.6,507.7 1215.1,508.0 1215.6,508.3 1216.1,508.6 1216.5,508.9 1217.0,509.1 1217.5,509.4 1218.0,509.7 1218.4,509.9 1218.9,510.2 1219.4,510.5 1219.8,510.7 1220.3,511.0 1220.8,511.3 1221.2,511.5 1221.7,511.8 1222.1,512.0 1222.6,512.3 1223.0,512.6 1223.5,512.8 1223.9,513.1 1224.4,513.3 1224.4,641.4 1223.9,641.3 1223.5,641.2 1223.0,641.1 1222.6,641.0 1222.1,641.0 1221.7,640.9 1221.2,640.8 1220.8,640.7 1220.3,640.6 1219.8,640.5 1219.4,640.5 1218.9,640.4 1218.4,640.3 1218.0,640.2 1217.5,640.1 1217.0,640.0 1216.5,639.9 1216.1,639.8 1215.6,639.8 1215.1,639.7 1214.6,639.6 1214.1,639.5 1213.6,639.4 1213.1,639.3 1212.6,639.2 1212.1,639.1 1211.6,639.0 1211.1,638.9 1210.6,638.8 1210.1,638.7 1209.5,638.6 1209.0,638.5 1208.5,638.4 1208.0,638.3 1207.4,638.2 1206.9,638.1 1206.4,638.0 1205.8,637.9 1205.3,637.8 1204.7,637.7 1204.2,637.6 1203.7,637.4 1203.1,637.3 1202.5,637.2 1202.0,637.1 1201.4,637.0 1200.8,636.9 1200.3,636.8 1199.7,636.6 1199.1,636.5 1198.5,636.4 1198.0,636.3 1197.4,636.1 1196.8,636.0 1196.2,635.9 1195.6,635.7 1195.0,635.6 1194.4,635.5 1193.8,635.3 1193.1,635.2 1192.5,635.1 1191.9,634.9 1191.3,634.8 1190.6,634.6 1190.0,634.5 1189.4,634.3 1188.7,634.2 1188.1,634.0 1187.4,633.9 1186.8,633.7 1186.1,633.5 1185.4,633.4 1184.7,633.2 1184.1,633.0 1183.4,632.9 1182.7,632.7 1182.0,632.5 1181.3,632.4 1180.6,632.2 1179.9,632.0 1179.2,631.8 1178.5,631.6 1177.7,631.4 1177.0,631.2 1176.3,631.0 1175.5,630.8 1174.8,630.6 1174.0,630.4 1173.3,630.2 1172.5,630.0 1171.7,629.8 1170.9,629.6 1170.2,629.3 1169.4,629.1 1168.6,628.9 1167.8,628.6 1166.9,628.4 1166.1,628.2 1165.3,627.9 1164.5,627.7 1163.6,627.4 1162.8,627.1 1161.9,626.9 1161.1,626.6 1160.2,626.3 1159.3,626.1 1158.4,625.8 1157.5,625.5 1156.6,625.2 1155.7,624.9 1154.8,624.6 1153.8,624.3 1152.9,624.0 1151.9,623.7 1151.0,623.4 1150.0,623.0 1149.0,622.7 1148.0,622.4 1147.0,622.0 1146.0,621.7 1145.0,621.3 1143.9,620.9 1142.9,620.6 1141.8,620.2 1140.7,619.8 1139.7,619.4 1138.6,619.0 1137.5,618.6 1136.3,618.2 1135.2,617.8 1134.0,617.3 1132.9,616.9 1131.7,616.4 1130.5,616.0 1129.3,615.5 1128.1,615.0 1126.8,614.5 1125.6,614.0 1124.3,613.5 1123.0,613.0 1121.7,612.5 1120.3,611.9 1119.0,611.4 1117.6,610.8 1116.2,610.2 1114.8,609.6 1113.4,609.0 1111.9,608.4 1110.4,607.8 1108.9,607.2 1107.4,606.5 1105.9,605.8 1104.3,605.1 1102.7,604.4 1101.0,603.7 1099.4,603.0 1097.7,602.2 1096.0,601.5 1094.2,600.7 1092.4,599.9 1090.6,599.0 1088.7,598.2 1086.8,597.3 1084.9,596.4 1082.9,595.5 1080.9,594.6 1078.8,593.6 1076.7,592.6 1074.6,591.6 1072.4,590.5 1070.1,589.4 1067.8,588.3 1065.4,587.1 1063.0,585.9 1060.5,584.7 1057.9,583.4 1055.2,582.1 1052.5,580.7 1049.7,579.2 1046.8,577.7 1043.9,576.1 1040.8,574.5 1037.6,572.8 1034.3,571.0 1030.9,569.1 1027.3,567.1 1023.7,564.9 1019.8,562.7 1015.8,560.3 1011.6,557.8 1007.3,555.1 1002.7,552.2 997.9,549.1 992.8,545.7 987.4,542.1 981.7,538.1 975.7,533.8 969.2,529.1 962.2,524.0 954.7,518.3 946.6,512.0 937.6,505.0 927.7,497.1 916.7,488.3 904.1,478.4 889.6,466.9 872.5,453.3 851.6,436.5 824.6,413.6 786.5,378.0 721.4,312.5" fill="#e41a1c" fill-opacity="0.15"/>
<polygon clip-path="url(#cA2)" points="721.4,316.7 786.5,452.1 824.6,520.6 851.6,559.1 872.5,583.3 889.6,599.9 904.1,612.0 916.7,621.2 927.7,628.4 937.6,634.2 946.6,639.0 954.7,643.0 962.2,646.4 969.2,649.3 975.7,651.8 981.7,654.0 987.4,656.0 992.8,657.7 997.9,659.3 1002.7,660.7 1007.3,661.9 1011.6,663.1 1015.8,664.1 1019.8,665.0 1023.7,665.9 1027.3,666.7 1030.9,667.4 1034.3,668.0 1037.6,668.6 1040.8,669.2 1043.9,669.7 1046.8,670.2 1049.7,670.6 1052.5,671.0 1055.2,671.4 1057.9,671.8 1060.5,672.1 1063.0,672.4 1065.4,672.7 1067.8,673.0 1070.1,673.2 1072.4,673.5 1074.6,673.7 1076.7,673.9 1078.8,674.1 1080.9,674.3 1082.9,674.5 1084.9,674.7 1086.8,674.8 1088.7,675.0 1090.6,675.1 1092.4,675.3 1094.2,675.4 1096.0,675.5 1097.7,675.6 1099.4,675.8 1101.0,675.9 1102.7,676.0 1104.3,676.1 1105.9,676.2 1107.4,676.3 1108.9,676.3 1110.4,676.4 1111.9,676.5 1113.4,676.6 1114.8,676.7 1116.2,676.7 1117.6,676.8 1119.0,676.9 1120.3,676.9 1121.7,677.0 1123.0,677.1 1124.3,677.1 1125.6,677.2 1126.8,677.2 1128.1,677.3 1129.3,677.3 1130.5,677.4 1131.7,677.4 1132.9,677.5 1134.0,677.5 1135.2,677.6 1136.3,677.6 1137.5,677.6 1138.6,677.7 1139.7,677.7 1140.7,677.8 1141.8,677.8 1142.9,677.8 1143.9,677.9 1145.0,677.9 1146.0,677.9 1147.0,678.0 1148.0,678.0 1149.0,678.0 1150.0,678.0 1151.0,678.1 1151.9,678.1 1152.9,678.1 1153.8,678.2 1154.8,678.2 1155.7,678.2 1156.6,678.2 1157.5,678.3 1158.4,678.3 1159.3,678.3 1160.2,678.3 1161.1,678.4 1161.9,678.4 1162.8,678.4 1163.6,678.4 1164.5,678.4 1165.3,678.5 1166.1,678.5 1166.9,678.5 1167.8,678.5 1168.6,678.5 1169.4,678.6 1170.2,678.6 1170.9,678.6 1171.7,678.6 1172.5,678.6 1173.3,678.6 1174.0,678.7 1174.8,678.7 1175.5,678.7 1176.3,678.7 1177.0,678.7 1177.7,678.7 1178.5,678.7 1179.2,678.8 1179.9,678.8 1180.6,678.8 1181.3,678.8 1182.0,678.8 1182.7,678.8 1183.4,678.8 1184.1,678.8 1184.7,678.9 1185.4,678.9 1186.1,678.9 1186.8,678.9 1187.4,678.9 1188.1,678.9 1188.7,678.9 1189.4,678.9 1190.0,679.0 1190.6,679.0 1191.3,679.0 1191.9,679.0 1192.5,679.0 1193.1,679.0 1193.8,679.0 1194.4,679.0 1195.0,679.0 1195.6,679.0 1196.2,679.1 1196.8,679.1 1197.4,679.1 1198.0,679.1 1198.5,679.1 1199.1,679.1 1199.7,679.1 1200.3,679.1 1200.8,679.1 1201.4,679.1 1202.0,679.1 1202.5,679.1 1203.1,679.2 1203.7,679.2 1204.2,679.2 1204.7,679.2 1205.3,679.2 1205.8,679.2 1206.4,679.2 1206.9,679.2 1207.4,679.2 1208.0,679.2 1208.5,679.2 1209.0,679.2 1209.5,679.2 1210.1,679.2 1210.6,679.3 1211.1,679.3 1211.6,679.3 1212.1,679.3 1212.6,679.3 1213.1,679.3 1213.6,679.3 1214.1,679.3 1214.6,679.3 1215.1,679.3 1215.6,679.3 1216.1,679.3 1216.5,679.3 1217.0,679.3 1217.5,679.3 1218.0,679.3 1218.4,679.3 1218.9,679.4 1219.4,679.4 1219.8,679.4 1220.3,679.4 1220.8,679.4 1221.2,679.4 1221.7,679.4 1222.1,679.4 1222.6,679.4 1223.0,679.4 1223.5,679.4 1223.9,679.4 1224.4,679.4 1224.4,680.1 1223.9,680.1 1223.5,680.1 1223.0,680.1 1222.6,680.1 1222.1,680.1 1221.7,680.1 1221.2,680.1 1220.8,680.1 1220.3,680.1 1219.8,680.1 1219.4,680.1 1218.9,680.1 1218.4,680.1 1218.0,680.1 1217.5,680.1 1217.0,680.1 1216.5,680.1 1216.1,680.1 1215.6,680.1 1215.1,680.1 1214.6,680.1 1214.1,680.1 1213.6,680.1 1213.1,680.1 1212.6,680.1 1212.1,680.1 1211.6,680.1 1211.1,680.1 1210.6,680.1 1210.1,680.1 1209.5,680.1 1209.0,680.1 1208.5,680.1 1208.0,680.0 1207.4,680.0 1206.9,680.0 1206.4,680.0 1205.8,680.0 1205.3,680.0 1204.7,680.0 1204.2,680.0 1203.7,680.0 1203.1,680.0 1202.5,680.0 1202.0,680.0 1201.4,680.0 1200.8,680.0 1200.3,680.0 1199.7,680.0 1199.1,680.0 1198.5,680.0 1198.0,680.0 1197.4,680.0 1196.8,680.0 1196.2,680.0 1195.6,680.0 1195.0,680.0 1194.4,680.0 1193.8,680.0 1193.1,680.0 1192.5,680.0 1191.9,680.0 1191.3,680.0 1190.6,680.0 1190.0,680.0 1189.4,680.0 1188.7,680.0 1188.1,680.0 1187.4,680.0 1186.8,680.0 1186.1,680.0 1185.4,680.0 1184.7,680.0 1184.1,680.0 1183.4,680.0 1182.7,680.0 1182.0,680.0 1181.3,680.0 1180.6,680.0 1179.9,680.0 1179.2,680.0 1178.5,680.0 1177.7,680.0 1177.0,680.0 1176.3,680.0 1175.5,680.0 1174.8,680.0 1174.0,680.0 1173.3,680.0 1172.5,680.0 1171.7,680.0 1170.9,680.0 1170.2,680.0 1169.4,680.0 1168.6,679.9 1167.8,679.9 1166.9,679.9 1166.1,679.9 1165.3,679.9 1164.5,679.9 1163.6,679.9 1162.8,679.9 1161.9,679.9 1161.1,679.9 1160.2,679.9 1159.3,679.9 1158.4,679.9 1157.5,679.9 1156.6,679.9 1155.7,679.9 1154.8,679.9 1153.8,679.9 1152.9,679.9 1151.9,679.9 1151.0,679.9 1150.0,679.9 1149.0,679.9 1148.0,679.9 1147.0,679.9 1146.0,679.9 1145.0,679.9 1143.9,679.9 1142.9,679.8 1141.8,679.8 1140.7,679.8 1139.7,679.8 1138.6,679.8 1137.5,679.8 1136.3,679.8 1135.2,679.8 1134.0,679.8 1132.9,679.8 1131.7,679.8 1130.5,679.8 1129.3,679.8 1128.1,679.8 1126.8,679.8 1125.6,679.8 1124.3,679.8 1123.0,679.7 1121.7,679.7 1120.3,679.7 1119.0,679.7 1117.6,679.7 1116.2,679.7 1114.8,679.7 1113.4,679.7 1111.9,679.7 1110.4,679.7 1108.9,679.6 1107.4,679.6 1105.9,679.6 1104.3,679.6 1102.7,679.6 1101.0,679.6 1099.4,679.6 1097.7,679.6 1096.0,679.5 1094.2,679.5 1092.4,679.5 1090.6,679.5 1088.7,679.5 1086.8,679.4 1084.9,679.4 1082.9,679.4 1080.9,679.4 1078.8,679.4 1076.7,679.3 1074.6,679.3 1072.4,679.3 1070.1,679.2 1067.8,679.2 1065.4,679.2 1063.0,679.1 1060.5,679.1 1057.9,679.1 1055.2,679.0 1052.5,679.0 1049.7,678.9 1046.8,678.9 1043.9,678.8 1040.8,678.7 1037.6,678.7 1034.3,678.6 1030.9,678.5 1027.3,678.4 1023.7,678.3 1019.8,678.2 1015.8,678.0 1011.6,677.9 1007.3,677.7 1002.7,677.5 997.9,677.3 992.8,677.0 987.4,676.7 981.7,676.4 975.7,676.0 969.2,675.5 962.2,674.9 954.7,674.2 946.6,673.4 937.6,672.3 927.7,671.0 916.7,669.3 904.1,667.2 889.6,664.4 872.5,660.6 851.6,655.1 824.6,645.6 786.5,624.4 721.4,566.7" fill="#377eb8" fill-opacity="0.15"/>
<polyline clip-path="url(#cB)" points="1447.3,318.0 1515.8,376.4 1555.8,411.0 1584.3,435.2 1606.3,453.5 1624.3,468.1 1639.6,480.1 1652.7,490.3 1664.4,499.1 1674.8,506.8 1684.2,513.5 1692.8,519.6 1700.7,525.1 1708.0,530.0 1714.9,534.6 1721.2,538.8 1727.2,542.6 1732.9,546.2 1738.2,549.5 1743.3,552.6 1748.1,555.5 1752.7,558.3 1757.1,560.9 1761.3,563.3 1765.3,565.6 1769.2,567.8 1772.9,569.9 1776.5,571.9 1780.0,573.7 1783.3,575.5 1786.6,577.3 1789.7,578.9 1792.8,580.5 1795.7,582.0 1798.6,583.5 1801.4,584.9 1804.1,586.2 1806.7,587.6 1809.3,588.8 1811.8,590.0 1814.2,591.2 1816.6,592.3 1818.9,593.4 1821.2,594.5 1823.4,595.5 1825.6,596.5 1827.7,597.5 1829.8,598.5 1831.8,599.4 1833.8,600.3 1835.8,601.1 1837.7,602.0 1839.6,602.8 1841.4,603.6 1843.2,604.4 1845.0,605.2 1846.8,605.9 1848.5,606.6 1850.2,607.3 1851.8,608.0 1853.5,608.7 1855.1,609.4 1856.6,610.0 1858.2,610.6 1859.7,611.3 1861.2,611.9 1862.7,612.5 1864.2,613.0 1865.6,613.6 1867.1,614.2 1868.5,614.7 1869.8,615.2 1871.2,615.8 1872.5,616.3 1873.9,616.8 1875.2,617.3 1876.5,617.8 1877.7,618.2 1879.0,618.7 1880.2,619.2 1881.5,619.6 1882.7,620.1 1883.9,620.5 1885.1,620.9 1886.2,621.4 1887.4,621.8 1888.5,622.2 1889.7,622.6 1890.8,623.0 1891.9,623.4 1893.0,623.8 1894.1,624.1 1895.1,624.5 1896.2,624.9 1897.2,625.2 1898.3,625.6 1899.3,625.9 1900.3,626.3 1901.3,626.6 1902.3,627.0 1903.3,627.3 1904.2,627.6 1905.2,627.9 1906.2,628.3 1907.1,628.6 1908.0,628.9 1909.0,629.2 1909.9,629.5 1910.8,629.8 1911.7,630.1 1912.6,630.4 1913.5,630.6 1914.4,630.9 1915.2,631.2 1916.1,631.5 1917.0,631.8 1917.8,632.0 1918.6,632.3 1919.5,632.5 1920.3,632.8 1921.1,633.1 1921.9,633.3 1922.7,633.6 1923.5,633.8 1924.3,634.0 1925.1,634.3 1925.9,634.5 1926.7,634.8 1927.4,635.0 1928.2,635.2 1929.0,635.4 1929.7,635.7 1930.5,635.9 1931.2,636.1 1931.9,636.3 1932.7,636.5 1933.4,636.8 1934.1,637.0 1934.8,637.2 1935.5,637.4 1936.2,637.6 1936.9,637.8 1937.6,638.0 1938.3,638.2 1939.0,638.4 1939.7,638.6 1940.4,638.8 1941.0,639.0 1941.7,639.2 1942.4,639.3 1943.0,639.5 1943.7,639.7 1944.3,639.9 1945.0,640.1 1945.6,640.2 1946.2,640.4 1946.9,640.6 1947.5,640.8 1948.1,640.9 1948.7,641.1 1949.3,641.3 1950.0,641.4 1950.6,641.6 1951.2,641.8 1951.8,641.9 1952.4,642.1 1953.0,642.3 1953.5,642.4 1954.1,642.6 1954.7,642.7 1955.3,642.9 1955.9,643.0 1956.4,643.2 1957.0,643.3 1957.6,643.5 1958.1,643.6 1958.7,643.8 1959.3,643.9 1959.8,644.1 1960.4,644.2 1960.9,644.4 1961.5,644.5 1962.0,644.6 1962.5,644.8 1963.1,644.9 1963.6,645.1 1964.1,645.2 1964.7,645.3 1965.2,645.5 1965.7,645.6 1966.2,645.7 1966.7,645.8 1967.3,646.0 1967.8,646.1 1968.3,646.2 1968.8,646.4 1969.3,646.5 1969.8,646.6 1970.3,646.7 1970.8,646.9 1971.3,647.0 1971.8,647.1 1972.2,647.2 1972.7,647.3 1973.2,647.5 1973.7,647.6 1974.2,647.7 1974.6,647.8 1975.1,647.9 1975.6,648.0" fill="none" stroke="#ffff00" stroke-width="4.8" stroke-linejoin="round"/>
<polyline clip-path="url(#cB)" points="1447.3,151.6 1515.8,181.7 1555.8,203.1 1584.3,220.1 1606.3,234.4 1624.3,246.8 1639.6,257.8 1652.7,267.7 1664.4,276.7 1674.8,285.0 1684.2,292.6 1692.8,299.7 1700.7,306.4 1708.0,312.6 1714.9,318.4 1721.2,323.9 1727.2,329.1 1732.9,334.0 1738.2,338.7 1743.3,343.1 1748.1,347.4 1752.7,351.4 1757.1,355.3 1761.3,359.0 1765.3,362.6 1769.2,366.0 1772.9,369.3 1776.5,372.5 1780.0,375.6 1783.3,378.5 1786.6,381.4 1789.7,384.2 1792.8,386.8 1795.7,389.4 1798.6,391.9 1801.4,394.4 1804.1,396.7 1806.7,399.1 1809.3,401.3 1811.8,403.5 1814.2,405.6 1816.6,407.7 1818.9,409.7 1821.2,411.6 1823.4,413.5 1825.6,415.4 1827.7,417.2 1829.8,419.0 1831.8,420.8 1833.8,422.5 1835.8,424.1 1837.7,425.7 1839.6,427.3 1841.4,428.9 1843.2,430.4 1845.0,431.9 1846.8,433.4 1848.5,434.8 1850.2,436.2 1851.8,437.6 1853.5,439.0 1855.1,440.3 1856.6,441.6 1858.2,442.9 1859.7,444.2 1861.2,445.4 1862.7,446.6 1864.2,447.8 1865.6,449.0 1867.1,450.2 1868.5,451.3 1869.8,452.4 1871.2,453.5 1872.5,454.6 1873.9,455.7 1875.2,456.8 1876.5,457.8 1877.7,458.8 1879.0,459.9 1880.2,460.9 1881.5,461.8 1882.7,462.8 1883.9,463.8 1885.1,464.7 1886.2,465.6 1887.4,466.6 1888.5,467.5 1889.7,468.4 1890.8,469.3 1891.9,470.1 1893.0,471.0 1894.1,471.9 1895.1,472.7 1896.2,473.5 1897.2,474.4 1898.3,475.2 1899.3,476.0 1900.3,476.8 1901.3,477.6 1902.3,478.4 1903.3,479.1 1904.2,479.9 1905.2,480.6 1906.2,481.4 1907.1,482.1 1908.0,482.9 1909.0,483.6 1909.9,484.3 1910.8,485.0 1911.7,485.7 1912.6,486.4 1913.5,487.1 1914.4,487.8 1915.2,488.4 1916.1,489.1 1917.0,489.8 1917.8,490.4 1918.6,491.1 1919.5,491.7 1920.3,492.3 1921.1,493.0 1921.9,493.6 1922.7,494.2 1923.5,494.8 1924.3,495.4 1925.1,496.0 1925.9,496.6 1926.7,497.2 1927.4,497.8 1928.2,498.4 1929.0,499.0 1929.7,499.6 1930.5,500.1 1931.2,500.7 1931.9,501.2 1932.7,501.8 1933.4,502.3 1934.1,502.9 1934.8,503.4 1935.5,504.0 1936.2,504.5 1936.9,505.0 1937.6,505.6 1938.3,506.1 1939.0,506.6 1939.7,507.1 1940.4,507.6 1941.0,508.1 1941.7,508.6 1942.4,509.1 1943.0,509.6 1943.7,510.1 1944.3,510.6 1945.0,511.1 1945.6,511.6 1946.2,512.0 1946.9,512.5 1947.5,513.0 1948.1,513.4 1948.7,513.9 1949.3,514.4 1950.0,514.8 1950.6,515.3 1951.2,515.7 1951.8,516.2 1952.4,516.6 1953.0,517.0 1953.5,517.5 1954.1,517.9 1954.7,518.3 1955.3,518.8 1955.9,519.2 1956.4,519.6 1957.0,520.0 1957.6,520.5 1958.1,520.9 1958.7,521.3 1959.3,521.7 1959.8,522.1 1960.4,522.5 1960.9,522.9 1961.5,523.3 1962.0,523.7 1962.5,524.1 1963.1,524.5 1963.6,524.9 1964.1,525.2 1964.7,525.6 1965.2,526.0 1965.7,526.4 1966.2,526.8 1966.7,527.1 1967.3,527.5 1967.8,527.9 1968.3,528.2 1968.8,528.6 1969.3,529.0 1969.8,529.3 1970.3,529.7 1970.8,530.0 1971.3,530.4 1971.8,530.7 1972.2,531.1 1972.7,531.4 1973.2,531.8 1973.7,532.1 1974.2,532.5 1974.6,532.8 1975.1,533.1 1975.6,533.5" fill="none" stroke="#ffa500" stroke-width="4.8" stroke-linejoin="round"/>
<polyline clip-path="url(#cB)" points="1447.3,131.5 1515.8,156.8 1555.8,175.2 1584.3,190.0 1606.3,202.5 1624.3,213.4 1639.6,223.0 1652.7,231.7 1664.4,239.7 1674.8,247.0 1684.2,253.7 1692.8,260.0 1700.7,265.9 1708.0,271.5 1714.9,276.7 1721.2,281.6 1727.2,286.4 1732.9,290.8 1738.2,295.1 1743.3,299.2 1748.1,303.1 1752.7,306.9 1757.1,310.5 1761.3,314.0 1765.3,317.3 1769.2,320.5 1772.9,323.7 1776.5,326.7 1780.0,329.6 1783.3,332.5 1786.6,335.2 1789.7,337.9 1792.8,340.5 1795.7,343.0 1798.6,345.5 1801.4,347.8 1804.1,350.2 1806.7,352.4 1809.3,354.7 1811.8,356.8 1814.2,358.9 1816.6,361.0 1818.9,363.0 1821.2,365.0 1823.4,366.9 1825.6,368.8 1827.7,370.6 1829.8,372.4 1831.8,374.2 1833.8,375.9 1835.8,377.6 1837.7,379.3 1839.6,380.9 1841.4,382.5 1843.2,384.1 1845.0,385.7 1846.8,387.2 1848.5,388.7 1850.2,390.1 1851.8,391.6 1853.5,393.0 1855.1,394.4 1856.6,395.8 1858.2,397.1 1859.7,398.5 1861.2,399.8 1862.7,401.0 1864.2,402.3 1865.6,403.6 1867.1,404.8 1868.5,406.0 1869.8,407.2 1871.2,408.4 1872.5,409.5 1873.9,410.7 1875.2,411.8 1876.5,412.9 1877.7,414.0 1879.0,415.1 1880.2,416.2 1881.5,417.2 1882.7,418.3 1883.9,419.3 1885.1,420.3 1886.2,421.3 1887.4,422.3 1888.5,423.3 1889.7,424.2 1890.8,425.2 1891.9,426.1 1893.0,427.0 1894.1,428.0 1895.1,428.9 1896.2,429.8 1897.2,430.7 1898.3,431.5 1899.3,432.4 1900.3,433.3 1901.3,434.1 1902.3,434.9 1903.3,435.8 1904.2,436.6 1905.2,437.4 1906.2,438.2 1907.1,439.0 1908.0,439.8 1909.0,440.6 1909.9,441.3 1910.8,442.1 1911.7,442.9 1912.6,443.6 1913.5,444.3 1914.4,445.1 1915.2,445.8 1916.1,446.5 1917.0,447.2 1917.8,447.9 1918.6,448.6 1919.5,449.3 1920.3,450.0 1921.1,450.7 1921.9,451.4 1922.7,452.0 1923.5,452.7 1924.3,453.3 1925.1,454.0 1925.9,454.6 1926.7,455.3 1927.4,455.9 1928.2,456.5 1929.0,457.1 1929.7,457.8 1930.5,458.4 1931.2,459.0 1931.9,459.6 1932.7,460.2 1933.4,460.8 1934.1,461.3 1934.8,461.9 1935.5,462.5 1936.2,463.1 1936.9,463.6 1937.6,464.2 1938.3,464.8 1939.0,465.3 1939.7,465.9 1940.4,466.4 1941.0,466.9 1941.7,467.5 1942.4,468.0 1943.0,468.5 1943.7,469.1 1944.3,469.6 1945.0,470.1 1945.6,470.6 1946.2,471.1 1946.9,471.6 1947.5,472.1 1948.1,472.6 1948.7,473.1 1949.3,473.6 1950.0,474.1 1950.6,474.6 1951.2,475.0 1951.8,475.5 1952.4,476.0 1953.0,476.5 1953.5,476.9 1954.1,477.4 1954.7,477.8 1955.3,478.3 1955.9,478.7 1956.4,479.2 1957.0,479.6 1957.6,480.1 1958.1,480.5 1958.7,481.0 1959.3,481.4 1959.8,481.8 1960.4,482.3 1960.9,482.7 1961.5,483.1 1962.0,483.5 1962.5,484.0 1963.1,484.4 1963.6,484.8 1964.1,485.2 1964.7,485.6 1965.2,486.0 1965.7,486.4 1966.2,486.8 1966.7,487.2 1967.3,487.6 1967.8,488.0 1968.3,488.4 1968.8,488.8 1969.3,489.2 1969.8,489.5 1970.3,489.9 1970.8,490.3 1971.3,490.7 1971.8,491.1 1972.2,491.4 1972.7,491.8 1973.2,492.2 1973.7,492.5 1974.2,492.9 1974.6,493.3 1975.1,493.6 1975.6,494.0" fill="none" stroke="#ff0000" stroke-width="4.8" stroke-linejoin="round"/>
<polygon clip-path="url(#cB)" points="1447.3,199.3 1515.8,249.9 1555.8,282.7 1584.3,306.0 1606.3,324.2 1624.3,339.1 1639.6,351.8 1652.7,363.0 1664.4,373.0 1674.8,381.9 1684.2,390.1 1692.8,397.5 1700.7,404.4 1708.0,410.7 1714.9,416.6 1721.2,422.0 1727.2,427.2 1732.9,432.0 1738.2,436.5 1743.3,440.8 1748.1,444.8 1752.7,448.6 1757.1,452.3 1761.3,455.7 1765.3,459.0 1769.2,462.1 1772.9,465.1 1776.5,468.0 1780.0,470.7 1783.3,473.3 1786.6,475.8 1789.7,478.2 1792.8,480.5 1795.7,482.8 1798.6,484.9 1801.4,487.0 1804.1,488.9 1806.7,490.9 1809.3,492.7 1811.8,494.5 1814.2,496.2 1816.6,497.9 1818.9,499.5 1821.2,501.0 1823.4,502.5 1825.6,504.0 1827.7,505.4 1829.8,506.8 1831.8,508.1 1833.8,509.4 1835.8,510.7 1837.7,511.9 1839.6,513.1 1841.4,514.2 1843.2,515.4 1845.0,516.5 1846.8,517.5 1848.5,518.6 1850.2,519.6 1851.8,520.6 1853.5,521.5 1855.1,522.5 1856.6,523.4 1858.2,524.3 1859.7,525.2 1861.2,526.0 1862.7,526.9 1864.2,527.7 1865.6,528.5 1867.1,529.3 1868.5,530.1 1869.8,530.8 1871.2,531.6 1872.5,532.3 1873.9,533.1 1875.2,533.8 1876.5,534.5 1877.7,535.1 1879.0,535.8 1880.2,536.5 1881.5,537.1 1882.7,537.8 1883.9,538.4 1885.1,539.0 1886.2,539.6 1887.4,540.3 1888.5,540.9 1889.7,541.4 1890.8,542.0 1891.9,542.6 1893.0,543.2 1894.1,543.7 1895.1,544.3 1896.2,544.8 1897.2,545.3 1898.3,545.9 1899.3,546.4 1900.3,546.9 1901.3,547.4 1902.3,547.9 1903.3,548.4 1904.2,548.9 1905.2,549.4 1906.2,549.9 1907.1,550.4 1908.0,550.8 1909.0,551.3 1909.9,551.8 1910.8,552.2 1911.7,552.7 1912.6,553.1 1913.5,553.6 1914.4,554.0 1915.2,554.4 1916.1,554.9 1917.0,555.3 1917.8,555.7 1918.6,556.1 1919.5,556.5 1920.3,557.0 1921.1,557.4 1921.9,557.8 1922.7,558.2 1923.5,558.6 1924.3,559.0 1925.1,559.4 1925.9,559.7 1926.7,560.1 1927.4,560.5 1928.2,560.9 1929.0,561.3 1929.7,561.6 1930.5,562.0 1931.2,562.4 1931.9,562.7 1932.7,563.1 1933.4,563.5 1934.1,563.8 1934.8,564.2 1935.5,564.5 1936.2,564.9 1936.9,565.2 1937.6,565.5 1938.3,565.9 1939.0,566.2 1939.7,566.6 1940.4,566.9 1941.0,567.2 1941.7,567.6 1942.4,567.9 1943.0,568.2 1943.7,568.5 1944.3,568.9 1945.0,569.2 1945.6,569.5 1946.2,569.8 1946.9,570.1 1947.5,570.4 1948.1,570.7 1948.7,571.0 1949.3,571.4 1950.0,571.7 1950.6,572.0 1951.2,572.3 1951.8,572.5 1952.4,572.8 1953.0,573.1 1953.5,573.4 1954.1,573.7 1954.7,574.0 1955.3,574.3 1955.9,574.6 1956.4,574.8 1957.0,575.1 1957.6,575.4 1958.1,575.7 1958.7,576.0 1959.3,576.2 1959.8,576.5 1960.4,576.8 1960.9,577.0 1961.5,577.3 1962.0,577.6 1962.5,577.8 1963.1,578.1 1963.6,578.3 1964.1,578.6 1964.7,578.8 1965.2,579.1 1965.7,579.3 1966.2,579.6 1966.7,579.8 1967.3,580.1 1967.8,580.3 1968.3,580.6 1968.8,580.8 1969.3,581.1 1969.8,581.3 1970.3,581.5 1970.8,581.8 1971.3,582.0 1971.8,582.2 1972.2,582.5 1972.7,582.7 1973.2,582.9 1973.7,583.1 1974.2,583.4 1974.6,583.6 1975.1,583.8 1975.6,584.0 1975.6,677.3 1975.1,677.2 1974.6,677.2 1974.2,677.1 1973.7,677.1 1973.2,677.0 1972.7,677.0 1972.2,676.9 1971.8,676.8 1971.3,676.8 1970.8,676.7 1970.3,676.7 1969.8,676.6 1969.3,676.5 1968.8,676.5 1968.3,676.4 1967.8,676.4 1967.3,676.3 1966.7,676.2 1966.2,676.2 1965.7,676.1 1965.2,676.0 1964.7,676.0 1964.1,675.9 1963.6,675.8 1963.1,675.8 1962.5,675.7 1962.0,675.6 1961.5,675.6 1960.9,675.5 1960.4,675.4 1959.8,675.4 1959.3,675.3 1958.7,675.2 1958.1,675.2 1957.6,675.1 1957.0,675.0 1956.4,674.9 1955.9,674.9 1955.3,674.8 1954.7,674.7 1954.1,674.6 1953.5,674.6 1953.0,674.5 1952.4,674.4 1951.8,674.3 1951.2,674.2 1950.6,674.2 1950.0,674.1 1949.3,674.0 1948.7,673.9 1948.1,673.8 1947.5,673.7 1946.9,673.7 1946.2,673.6 1945.6,673.5 1945.0,673.4 1944.3,673.3 1943.7,673.2 1943.0,673.1 1942.4,673.0 1941.7,672.9 1941.0,672.8 1940.4,672.8 1939.7,672.7 1939.0,672.6 1938.3,672.5 1937.6,672.4 1936.9,672.3 1936.2,672.2 1935.5,672.1 1934.8,672.0 1934.1,671.9 1933.4,671.8 1932.7,671.6 1931.9,671.5 1931.2,671.4 1930.5,671.3 1929.7,671.2 1929.0,671.1 1928.2,671.0 1927.4,670.9 1926.7,670.8 1925.9,670.6 1925.1,670.5 1924.3,670.4 1923.5,670.3 1922.7,670.1 1921.9,670.0 1921.1,669.9 1920.3,669.8 1919.5,669.6 1918.6,669.5 1917.8,669.4 1917.0,669.2 1916.1,669.1 1915.2,669.0 1914.4,668.8 1913.5,668.7 1912.6,668.5 1911.7,668.4 1910.8,668.2 1909.9,668.1 1909.0,667.9 1908.0,667.8 1907.1,667.6 1906.2,667.5 1905.2,667.3 1904.2,667.1 1903.3,667.0 1902.3,666.8 1901.3,666.6 1900.3,666.5 1899.3,666.3 1898.3,666.1 1897.2,665.9 1896.2,665.7 1895.1,665.6 1894.1,665.4 1893.0,665.2 1891.9,665.0 1890.8,664.8 1889.7,664.6 1888.5,664.4 1887.4,664.2 1886.2,663.9 1885.1,663.7 1883.9,663.5 1882.7,663.3 1881.5,663.0 1880.2,662.8 1879.0,662.6 1877.7,662.3 1876.5,662.1 1875.2,661.8 1873.9,661.6 1872.5,661.3 1871.2,661.1 1869.8,660.8 1868.5,660.5 1867.1,660.2 1865.6,659.9 1864.2,659.6 1862.7,659.3 1861.2,659.0 1859.7,658.7 1858.2,658.4 1856.6,658.1 1855.1,657.7 1853.5,657.4 1851.8,657.0 1850.2,656.7 1848.5,656.3 1846.8,655.9 1845.0,655.5 1843.2,655.1 1841.4,654.7 1839.6,654.3 1837.7,653.9 1835.8,653.5 1833.8,653.0 1831.8,652.5 1829.8,652.1 1827.7,651.6 1825.6,651.1 1823.4,650.5 1821.2,650.0 1818.9,649.4 1816.6,648.8 1814.2,648.2 1811.8,647.6 1809.3,647.0 1806.7,646.3 1804.1,645.6 1801.4,644.9 1798.6,644.2 1795.7,643.4 1792.8,642.6 1789.7,641.7 1786.6,640.8 1783.3,639.9 1780.0,638.9 1776.5,637.8 1772.9,636.7 1769.2,635.6 1765.3,634.4 1761.3,633.1 1757.1,631.7 1752.7,630.2 1748.1,628.6 1743.3,626.9 1738.2,625.0 1732.9,623.0 1727.2,620.8 1721.2,618.5 1714.9,615.9 1708.0,613.0 1700.7,609.8 1692.8,606.3 1684.2,602.3 1674.8,597.9 1664.4,592.8 1652.7,587.0 1639.6,580.4 1624.3,572.5 1606.3,563.0 1584.3,550.7 1555.8,533.4 1515.8,505.2 1447.3,458.7" fill="#e41a1c" fill-opacity="0.15"/>
<polygon clip-path="url(#cB)" points="1447.3,101.9 1515.8,116.5 1555.8,127.4 1584.3,136.7 1606.3,144.9 1624.3,152.3 1639.6,159.1 1652.7,165.5 1664.4,171.4 1674.8,177.0 1684.2,182.3 1692.8,187.2 1700.7,191.8 1708.0,196.2 1714.9,200.3 1721.2,204.3 1727.2,207.9 1732.9,211.4 1738.2,214.7 1743.3,217.9 1748.1,220.9 1752.7,223.7 1757.1,226.4 1761.3,229.0 1765.3,231.5 1769.2,233.8 1772.9,236.1 1776.5,238.3 1780.0,240.5 1783.3,242.5 1786.6,244.5 1789.7,246.5 1792.8,248.4 1795.7,250.2 1798.6,252.0 1801.4,253.7 1804.1,255.4 1806.7,257.1 1809.3,258.7 1811.8,260.3 1814.2,261.8 1816.6,263.3 1818.9,264.8 1821.2,266.3 1823.4,267.7 1825.6,269.1 1827.7,270.5 1829.8,271.8 1831.8,273.2 1833.8,274.5 1835.8,275.8 1837.7,277.1 1839.6,278.3 1841.4,279.6 1843.2,280.8 1845.0,282.0 1846.8,283.2 1848.5,284.4 1850.2,285.6 1851.8,286.7 1853.5,287.9 1855.1,289.0 1856.6,290.1 1858.2,291.2 1859.7,292.3 1861.2,293.3 1862.7,294.4 1864.2,295.4 1865.6,296.5 1867.1,297.5 1868.5,298.5 1869.8,299.5 1871.2,300.5 1872.5,301.5 1873.9,302.4 1875.2,303.4 1876.5,304.3 1877.7,305.2 1879.0,306.2 1880.2,307.1 1881.5,308.0 1882.7,308.9 1883.9,309.8 1885.1,310.6 1886.2,311.5 1887.4,312.4 1888.5,313.2 1889.7,314.1 1890.8,314.9 1891.9,315.7 1893.0,316.5 1894.1,317.3 1895.1,318.1 1896.2,318.9 1897.2,319.7 1898.3,320.5 1899.3,321.3 1900.3,322.0 1901.3,322.8 1902.3,323.5 1903.3,324.3 1904.2,325.0 1905.2,325.7 1906.2,326.5 1907.1,327.2 1908.0,327.9 1909.0,328.6 1909.9,329.3 1910.8,330.0 1911.7,330.7 1912.6,331.4 1913.5,332.0 1914.4,332.7 1915.2,333.4 1916.1,334.0 1917.0,334.7 1917.8,335.3 1918.6,335.9 1919.5,336.6 1920.3,337.2 1921.1,337.8 1921.9,338.5 1922.7,339.1 1923.5,339.7 1924.3,340.3 1925.1,340.9 1925.9,341.5 1926.7,342.1 1927.4,342.7 1928.2,343.2 1929.0,343.8 1929.7,344.4 1930.5,345.0 1931.2,345.5 1931.9,346.1 1932.7,346.6 1933.4,347.2 1934.1,347.7 1934.8,348.3 1935.5,348.8 1936.2,349.3 1936.9,349.9 1937.6,350.4 1938.3,350.9 1939.0,351.4 1939.7,352.0 1940.4,352.5 1941.0,353.0 1941.7,353.5 1942.4,354.0 1943.0,354.5 1943.7,355.0 1944.3,355.5 1945.0,356.0 1945.6,356.4 1946.2,356.9 1946.9,357.4 1947.5,357.9 1948.1,358.3 1948.7,358.8 1949.3,359.3 1950.0,359.7 1950.6,360.2 1951.2,360.6 1951.8,361.1 1952.4,361.5 1953.0,362.0 1953.5,362.4 1954.1,362.9 1954.7,363.3 1955.3,363.8 1955.9,364.2 1956.4,364.6 1957.0,365.0 1957.6,365.5 1958.1,365.9 1958.7,366.3 1959.3,366.7 1959.8,367.1 1960.4,367.6 1960.9,368.0 1961.5,368.4 1962.0,368.8 1962.5,369.2 1963.1,369.6 1963.6,370.0 1964.1,370.4 1964.7,370.8 1965.2,371.2 1965.7,371.6 1966.2,372.0 1966.7,372.3 1967.3,372.7 1967.8,373.1 1968.3,373.5 1968.8,373.9 1969.3,374.2 1969.8,374.6 1970.3,375.0 1970.8,375.4 1971.3,375.7 1971.8,376.1 1972.2,376.4 1972.7,376.8 1973.2,377.2 1973.7,377.5 1974.2,377.9 1974.6,378.2 1975.1,378.6 1975.6,378.9 1975.6,628.3 1975.1,628.1 1974.6,627.9 1974.2,627.7 1973.7,627.5 1973.2,627.3 1972.7,627.1 1972.2,626.9 1971.8,626.6 1971.3,626.4 1970.8,626.2 1970.3,626.0 1969.8,625.8 1969.3,625.6 1968.8,625.3 1968.3,625.1 1967.8,624.9 1967.3,624.7 1966.7,624.4 1966.2,624.2 1965.7,624.0 1965.2,623.7 1964.7,623.5 1964.1,623.3 1963.6,623.0 1963.1,622.8 1962.5,622.6 1962.0,622.3 1961.5,622.1 1960.9,621.8 1960.4,621.6 1959.8,621.3 1959.3,621.1 1958.7,620.8 1958.1,620.5 1957.6,620.3 1957.0,620.0 1956.4,619.8 1955.9,619.5 1955.3,619.2 1954.7,619.0 1954.1,618.7 1953.5,618.4 1953.0,618.1 1952.4,617.9 1951.8,617.6 1951.2,617.3 1950.6,617.0 1950.0,616.7 1949.3,616.4 1948.7,616.1 1948.1,615.9 1947.5,615.6 1946.9,615.3 1946.2,615.0 1945.6,614.7 1945.0,614.3 1944.3,614.0 1943.7,613.7 1943.0,613.4 1942.4,613.1 1941.7,612.8 1941.0,612.5 1940.4,612.1 1939.7,611.8 1939.0,611.5 1938.3,611.1 1937.6,610.8 1936.9,610.5 1936.2,610.1 1935.5,609.8 1934.8,609.4 1934.1,609.1 1933.4,608.7 1932.7,608.4 1931.9,608.0 1931.2,607.7 1930.5,607.3 1929.7,606.9 1929.0,606.6 1928.2,606.2 1927.4,605.8 1926.7,605.4 1925.9,605.1 1925.1,604.7 1924.3,604.3 1923.5,603.9 1922.7,603.5 1921.9,603.1 1921.1,602.7 1920.3,602.3 1919.5,601.8 1918.6,601.4 1917.8,601.0 1917.0,600.6 1916.1,600.1 1915.2,599.7 1914.4,599.3 1913.5,598.8 1912.6,598.4 1911.7,597.9 1910.8,597.5 1909.9,597.0 1909.0,596.5 1908.0,596.0 1907.1,595.6 1906.2,595.1 1905.2,594.6 1904.2,594.1 1903.3,593.6 1902.3,593.1 1901.3,592.6 1900.3,592.0 1899.3,591.5 1898.3,591.0 1897.2,590.4 1896.2,589.9 1895.1,589.3 1894.1,588.8 1893.0,588.2 1891.9,587.6 1890.8,587.0 1889.7,586.4 1888.5,585.8 1887.4,585.2 1886.2,584.6 1885.1,584.0 1883.9,583.3 1882.7,582.7 1881.5,582.0 1880.2,581.4 1879.0,580.7 1877.7,580.0 1876.5,579.3 1875.2,578.6 1873.9,577.9 1872.5,577.1 1871.2,576.4 1869.8,575.6 1868.5,574.9 1867.1,574.1 1865.6,573.3 1864.2,572.5 1862.7,571.6 1861.2,570.8 1859.7,569.9 1858.2,569.0 1856.6,568.2 1855.1,567.2 1853.5,566.3 1851.8,565.4 1850.2,564.4 1848.5,563.4 1846.8,562.4 1845.0,561.3 1843.2,560.3 1841.4,559.2 1839.6,558.1 1837.7,556.9 1835.8,555.7 1833.8,554.5 1831.8,553.3 1829.8,552.0 1827.7,550.7 1825.6,549.4 1823.4,548.0 1821.2,546.6 1818.9,545.1 1816.6,543.6 1814.2,542.1 1811.8,540.5 1809.3,538.8 1806.7,537.1 1804.1,535.3 1801.4,533.5 1798.6,531.6 1795.7,529.6 1792.8,527.6 1789.7,525.4 1786.6,523.2 1783.3,520.9 1780.0,518.5 1776.5,516.0 1772.9,513.3 1769.2,510.5 1765.3,507.6 1761.3,504.5 1757.1,501.3 1752.7,497.9 1748.1,494.3 1743.3,490.4 1738.2,486.3 1732.9,481.9 1727.2,477.2 1721.2,472.1 1714.9,466.7 1708.0,460.8 1700.7,454.5 1692.8,447.6 1684.2,440.1 1674.8,431.8 1664.4,422.7 1652.7,412.6 1639.6,401.4 1624.3,388.8 1606.3,374.2 1584.3,356.5 1555.8,333.6 1515.8,300.7 1447.3,255.2" fill="#377eb8" fill-opacity="0.15"/>
<polygon clip-path="url(#cB)" points="1447.3,95.7 1515.8,106.8 1555.8,115.6 1584.3,123.4 1606.3,130.3 1624.3,136.5 1639.6,142.0 1652.7,147.0 1664.4,151.6 1674.8,155.8 1684.2,159.7 1692.8,163.4 1700.7,166.9 1708.0,170.2 1714.9,173.3 1721.2,176.3 1727.2,179.2 1732.9,181.9 1738.2,184.6 1743.3,187.2 1748.1,189.6 1752.7,192.1 1757.1,194.4 1761.3,196.7 1765.3,198.9 1769.2,201.1 1772.9,203.2 1776.5,205.2 1780.0,207.2 1783.3,209.1 1786.6,211.1 1789.7,212.9 1792.8,214.7 1795.7,216.5 1798.6,218.2 1801.4,219.9 1804.1,221.6 1806.7,223.3 1809.3,224.9 1811.8,226.4 1814.2,228.0 1816.6,229.5 1818.9,231.0 1821.2,232.4 1823.4,233.8 1825.6,235.3 1827.7,236.6 1829.8,238.0 1831.8,239.3 1833.8,240.6 1835.8,241.9 1837.7,243.2 1839.6,244.5 1841.4,245.7 1843.2,246.9 1845.0,248.1 1846.8,249.3 1848.5,250.4 1850.2,251.6 1851.8,252.7 1853.5,253.8 1855.1,254.9 1856.6,256.0 1858.2,257.0 1859.7,258.1 1861.2,259.1 1862.7,260.1 1864.2,261.1 1865.6,262.1 1867.1,263.1 1868.5,264.1 1869.8,265.0 1871.2,266.0 1872.5,266.9 1873.9,267.8 1875.2,268.7 1876.5,269.6 1877.7,270.5 1879.0,271.4 1880.2,272.3 1881.5,273.1 1882.7,274.0 1883.9,274.8 1885.1,275.6 1886.2,276.4 1887.4,277.3 1888.5,278.1 1889.7,278.8 1890.8,279.6 1891.9,280.4 1893.0,281.2 1894.1,281.9 1895.1,282.7 1896.2,283.4 1897.2,284.1 1898.3,284.9 1899.3,285.6 1900.3,286.3 1901.3,287.0 1902.3,287.7 1903.3,288.4 1904.2,289.1 1905.2,289.7 1906.2,290.4 1907.1,291.1 1908.0,291.7 1909.0,292.4 1909.9,293.0 1910.8,293.7 1911.7,294.3 1912.6,294.9 1913.5,295.6 1914.4,296.2 1915.2,296.8 1916.1,297.4 1917.0,298.0 1917.8,298.6 1918.6,299.2 1919.5,299.7 1920.3,300.3 1921.1,300.9 1921.9,301.5 1922.7,302.0 1923.5,302.6 1924.3,303.1 1925.1,303.7 1925.9,304.2 1926.7,304.8 1927.4,305.3 1928.2,305.8 1929.0,306.4 1929.7,306.9 1930.5,307.4 1931.2,307.9 1931.9,308.4 1932.7,308.9 1933.4,309.4 1934.1,309.9 1934.8,310.4 1935.5,310.9 1936.2,311.4 1936.9,311.9 1937.6,312.3 1938.3,312.8 1939.0,313.3 1939.7,313.8 1940.4,314.2 1941.0,314.7 1941.7,315.1 1942.4,315.6 1943.0,316.0 1943.7,316.5 1944.3,316.9 1945.0,317.4 1945.6,317.8 1946.2,318.2 1946.9,318.7 1947.5,319.1 1948.1,319.5 1948.7,319.9 1949.3,320.4 1950.0,320.8 1950.6,321.2 1951.2,321.6 1951.8,322.0 1952.4,322.4 1953.0,322.8 1953.5,323.2 1954.1,323.6 1954.7,324.0 1955.3,324.4 1955.9,324.8 1956.4,325.2 1957.0,325.6 1957.6,326.0 1958.1,326.3 1958.7,326.7 1959.3,327.1 1959.8,327.5 1960.4,327.8 1960.9,328.2 1961.5,328.6 1962.0,328.9 1962.5,329.3 1963.1,329.7 1963.6,330.0 1964.1,330.4 1964.7,330.7 1965.2,331.1 1965.7,331.4 1966.2,331.8 1966.7,332.1 1967.3,332.5 1967.8,332.8 1968.3,333.2 1968.8,333.5 1969.3,333.9 1969.8,334.2 1970.3,334.5 1970.8,334.9 1971.3,335.2 1971.8,335.5 1972.2,335.9 1972.7,336.2 1973.2,336.5 1973.7,336.8 1974.2,337.2 1974.6,337.5 1975.1,337.8 1975.6,338.1 1975.6,604.4 1975.1,604.1 1974.6,603.8 1974.2,603.5 1973.7,603.2 1973.2,602.9 1972.7,602.5 1972.2,602.2 1971.8,601.9 1971.3,601.5 1970.8,601.2 1970.3,600.9 1969.8,600.5 1969.3,600.2 1968.8,599.9 1968.3,599.5 1967.8,599.2 1967.3,598.8 1966.7,598.5 1966.2,598.1 1965.7,597.7 1965.2,597.4 1964.7,597.0 1964.1,596.6 1963.6,596.3 1963.1,595.9 1962.5,595.5 1962.0,595.2 1961.5,594.8 1960.9,594.4 1960.4,594.0 1959.8,593.6 1959.3,593.2 1958.7,592.8 1958.1,592.5 1957.6,592.1 1957.0,591.7 1956.4,591.3 1955.9,590.8 1955.3,590.4 1954.7,590.0 1954.1,589.6 1953.5,589.2 1953.0,588.8 1952.4,588.4 1951.8,587.9 1951.2,587.5 1950.6,587.1 1950.0,586.7 1949.3,586.2 1948.7,585.8 1948.1,585.3 1947.5,584.9 1946.9,584.5 1946.2,584.0 1945.6,583.6 1945.0,583.1 1944.3,582.7 1943.7,582.2 1943.0,581.8 1942.4,581.3 1941.7,580.8 1941.0,580.4 1940.4,579.9 1939.7,579.4 1939.0,579.0 1938.3,578.5 1937.6,578.0 1936.9,577.5 1936.2,577.1 1935.5,576.6 1934.8,576.1 1934.1,575.6 1933.4,575.1 1932.7,574.6 1931.9,574.1 1931.2,573.6 1930.5,573.1 1929.7,572.6 1929.0,572.1 1928.2,571.6 1927.4,571.1 1926.7,570.6 1925.9,570.1 1925.1,569.6 1924.3,569.0 1923.5,568.5 1922.7,568.0 1921.9,567.5 1921.1,566.9 1920.3,566.4 1919.5,565.8 1918.6,565.3 1917.8,564.8 1917.0,564.2 1916.1,563.7 1915.2,563.1 1914.4,562.5 1913.5,562.0 1912.6,561.4 1911.7,560.8 1910.8,560.3 1909.9,559.7 1909.0,559.1 1908.0,558.5 1907.1,557.9 1906.2,557.3 1905.2,556.7 1904.2,556.1 1903.3,555.5 1902.3,554.9 1901.3,554.3 1900.3,553.7 1899.3,553.0 1898.3,552.4 1897.2,551.8 1896.2,551.1 1895.1,550.5 1894.1,549.8 1893.0,549.2 1891.9,548.5 1890.8,547.8 1889.7,547.1 1888.5,546.4 1887.4,545.8 1886.2,545.0 1885.1,544.3 1883.9,543.6 1882.7,542.9 1881.5,542.2 1880.2,541.4 1879.0,540.7 1877.7,539.9 1876.5,539.1 1875.2,538.3 1873.9,537.5 1872.5,536.7 1871.2,535.9 1869.8,535.1 1868.5,534.2 1867.1,533.4 1865.6,532.5 1864.2,531.6 1862.7,530.7 1861.2,529.8 1859.7,528.8 1858.2,527.9 1856.6,526.9 1855.1,525.9 1853.5,524.9 1851.8,523.8 1850.2,522.8 1848.5,521.7 1846.8,520.6 1845.0,519.4 1843.2,518.2 1841.4,517.0 1839.6,515.8 1837.7,514.5 1835.8,513.2 1833.8,511.8 1831.8,510.4 1829.8,509.0 1827.7,507.5 1825.6,506.0 1823.4,504.4 1821.2,502.8 1818.9,501.1 1816.6,499.4 1814.2,497.6 1811.8,495.8 1809.3,493.9 1806.7,491.9 1804.1,489.8 1801.4,487.7 1798.6,485.5 1795.7,483.2 1792.8,480.9 1789.7,478.4 1786.6,475.8 1783.3,473.2 1780.0,470.4 1776.5,467.5 1772.9,464.5 1769.2,461.3 1765.3,458.0 1761.3,454.5 1757.1,450.9 1752.7,447.1 1748.1,443.1 1743.3,438.9 1738.2,434.4 1732.9,429.7 1727.2,424.7 1721.2,419.5 1714.9,413.8 1708.0,407.8 1700.7,401.3 1692.8,394.3 1684.2,386.7 1674.8,378.5 1664.4,369.4 1652.7,359.3 1639.6,348.0 1624.3,335.1 1606.3,320.2 1584.3,302.5 1555.8,280.7 1515.8,252.1 1447.3,212.5" fill="#4daf4a" fill-opacity="0.15"/>
<g stroke="#333" stroke-width="3.56">
<line x1="149.80" x2="149.80" y1="705.4" y2="714.9"/>
<line x1="337.70" x2="337.70" y1="705.4" y2="714.9"/>
<line x1="525.60" x2="525.60" y1="705.4" y2="714.9"/>
<line x1="721.40" x2="721.40" y1="705.4" y2="714.9"/>
<line x1="909.20" x2="909.20" y1="705.4" y2="714.9"/>
<line x1="1097.00" x2="1097.00" y1="705.4" y2="714.9"/>
<line x1="1447.30" x2="1447.30" y1="705.4" y2="714.9"/>
<line x1="1644.90" x2="1644.90" y1="705.4" y2="714.9"/>
<line x1="1842.50" x2="1842.50" y1="705.4" y2="714.9"/>
<line x1="115.7" x2="125.2" y1="680.13" y2="680.13"/>
<line x1="115.7" x2="125.2" y1="528.61" y2="528.61"/>
<line x1="115.7" x2="125.2" y1="377.08" y2="377.08"/>
<line x1="115.7" x2="125.2" y1="225.56" y2="225.56"/>
<line x1="1411.7" x2="1421.2" y1="695.13" y2="695.13"/>
<line x1="1411.7" x2="1421.2" y1="538.49" y2="538.49"/>
<line x1="1411.7" x2="1421.2" y1="381.85" y2="381.85"/>
<line x1="1411.7" x2="1421.2" y1="225.22" y2="225.22"/>
<line x1="1411.7" x2="1421.2" y1="68.58" y2="68.58"/>
</g>
<g font-size="28.8" fill="#4d4d4d">
<text x="149.8" y="744.3" text-anchor="middle">0</text>
<text x="337.7" y="744.3" text-anchor="middle">2</text>
<text x="525.6" y="744.3" text-anchor="middle">4</text>
<text x="721.4" y="744.3" text-anchor="middle">0</text>
<text x="909.2" y="744.3" text-anchor="middle">2</text>
<text x="1097.0" y="744.3" text-anchor="middle">4</text>
<text x="1447.3" y="744.3" text-anchor="middle">0</text>
<text x="1644.9" y="744.3" text-anchor="middle">2</text>
<text x="1842.5" y="744.3" text-anchor="middle">4</text>
<text x="108.7" y="690.8" text-anchor="end">0%</text>
<text x="108.7" y="539.3" text-anchor="end">25%</text>
<text x="108.7" y="387.8" text-anchor="end">50%</text>
<text x="108.7" y="236.3" text-anchor="end">75%</text>
<text x="1404.7" y="705.8" text-anchor="end">0%</text>
<text x="1404.7" y="549.2" text-anchor="end">25%</text>
<text x="1404.7" y="392.6" text-anchor="end">50%</text>
<text x="1404.7" y="235.9" text-anchor="end">75%</text>
<text x="1404.7" y="79.3" text-anchor="end">100%</text>
</g>
<text x="125.5" y="36.1" font-size="44.2" fill="#000">A (all individuals)</text>
<text x="1420.8" y="36.1" font-size="44.2" fill="#000">B (adult females only)</text>
<g font-size="36.2" fill="#000">
<text x="687.2" y="787.0" text-anchor="middle">log(duration)</text>
<text x="1712.2" y="787.0" text-anchor="middle">log(duration)</text>
<text transform="translate(31.5,414.5) rotate(-90)" text-anchor="middle">Prob(forelimb-crouch) as %</text>
<text transform="translate(1310.5,385.5) rotate(-90)" text-anchor="middle">Prob(forelimb-crouch) as %</text>
</g>
<text x="465.5" y="890" font-size="36.2" fill="#000">Sex</text>
<rect x="546.5" y="850.5" width="56.0" height="56.0" fill="#f2f2f2"/>
<line x1="551.5" x2="597.5" y1="878.5" y2="878.5" stroke="#ff0000" stroke-width="4.8"/>
<rect x="546.5" y="850.5" width="56.0" height="56.0" fill="#333" fill-opacity="0.15"/>
<rect x="548.0" y="852.0" width="53.0" height="53.0" fill="none" stroke="#ff0000" stroke-width="3.0"/>
<rect x="754.3" y="850.5" width="56.0" height="56.0" fill="#f2f2f2"/>
<line x1="759.3" x2="805.3" y1="878.5" y2="878.5" stroke="#0000ff" stroke-width="4.8"/>
<rect x="754.3" y="850.5" width="56.0" height="56.0" fill="#333" fill-opacity="0.15"/>
<rect x="755.8" y="852.0" width="53.0" height="53.0" fill="none" stroke="#0000ff" stroke-width="3.0"/>
<g font-size="28.8" fill="#000">
<text x="621.6" y="889.2">Females</text><text x="829.0" y="889.2">Males</text>
<text x="1650.5" y="889.2">Min</text><text x="1792.0" y="889.2">Inter</text><text x="1945.5" y="889.2">Max</text>
</g>
<text x="1420.8" y="890" font-size="36.2" fill="#000">Swelling</text>
<rect x="1575.6" y="850.5" width="56.0" height="56.0" fill="#f2f2f2"/>
<line x1="1580.6" x2="1626.6" y1="878.5" y2="878.5" stroke="#ffff00" stroke-width="4.8"/>
<rect x="1575.6" y="850.5" width="56.0" height="56.0" fill="#333" fill-opacity="0.15"/>
<rect x="1577.1" y="852.0" width="53.0" height="53.0" fill="none" stroke="#ffff00" stroke-width="3.0"/>
<rect x="1717.3" y="850.5" width="56.0" height="56.0" fill="#f2f2f2"/>
<line x1="1722.3" x2="1768.3" y1="878.5" y2="878.5" stroke="#ffa500" stroke-width="4.8"/>
<rect x="1717.3" y="850.5" width="56.0" height="56.0" fill="#333" fill-opacity="0.15"/>
<rect x="1718.8" y="852.0" width="53.0" height="53.0" fill="none" stroke="#ffa500" stroke-width="3.0"/>
<rect x="1871.3" y="850.5" width="56.0" height="56.0" fill="#f2f2f2"/>
<line x1="1876.3" x2="1922.3" y1="878.5" y2="878.5" stroke="#ff0000" stroke-width="4.8"/>
<rect x="1871.3" y="850.5" width="56.0" height="56.0" fill="#333" fill-opacity="0.15"/>
<rect x="1872.8" y="852.0" width="53.0" height="53.0" fill="none" stroke="#ff0000" stroke-width="3.0"/>
</svg>
</body></html>
